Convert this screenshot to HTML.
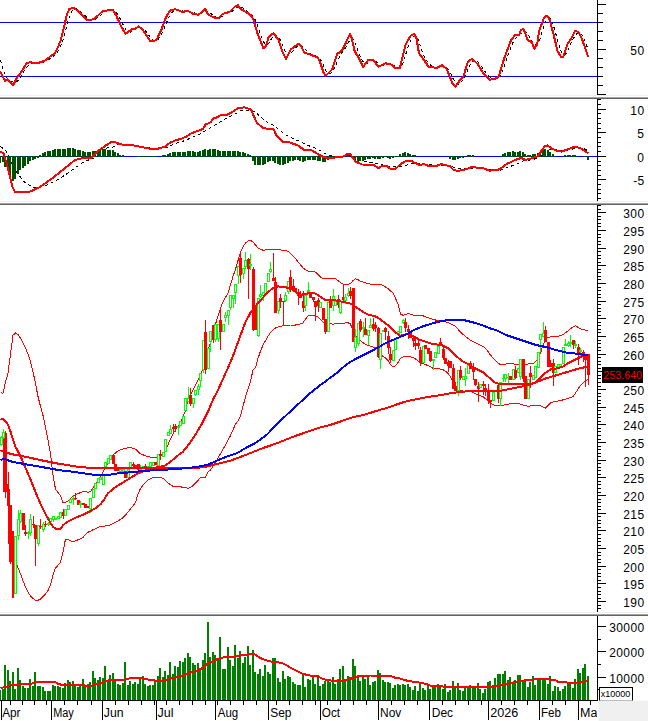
<!DOCTYPE html>
<html><head><meta charset="utf-8"><title>Chart</title><style>html,body{margin:0;padding:0;background:#fff;width:648px;height:721px;overflow:hidden}</style></head><body>
<svg width="648" height="721" viewBox="0 0 648 721" style="display:block;position:absolute;left:0;top:0" font-family="'Liberation Sans', Arial, sans-serif" font-size="12">
<rect width="648" height="721" fill="#fff"/>
<defs><clipPath id="c1"><rect x="0" y="0" width="597" height="97"/></clipPath><clipPath id="c2"><rect x="0" y="99" width="597" height="104"/></clipPath><clipPath id="c3"><rect x="0" y="205" width="597" height="409"/></clipPath><clipPath id="c4"><rect x="0" y="616" width="597" height="84"/></clipPath><clipPath id="cx"><rect x="0" y="701" width="597" height="20"/></clipPath></defs>
<g clip-path="url(#c1)">
<rect x="0" y="22" width="597" height="1" fill="#0000ff"/><rect x="0" y="76" width="597" height="1" fill="#0000ff"/>
<polyline points="0.5,59.9 3.0,68.9 5.5,76.4 8.0,79.0 10.5,80.8 13.0,82.2 15.5,82.5 18.0,80.6 20.5,76.7 23.0,72.8 25.5,69.1 28.0,65.7 30.5,63.4 33.0,62.6 35.5,62.7 38.0,63.0 40.5,62.7 43.0,62.2 45.5,61.3 48.0,60.0 50.5,58.3 53.0,56.3 55.5,54.2 58.0,51.2 60.5,46.6 63.0,39.8 65.5,30.9 68.0,21.2 70.5,13.7 73.0,9.5 75.5,8.6 78.0,9.5 80.5,11.4 83.0,13.7 85.5,16.1 88.0,18.1 90.5,19.4 93.0,19.6 95.5,19.0 98.0,17.5 100.5,15.5 103.0,13.2 105.5,11.6 108.0,10.7 110.5,10.4 113.0,10.2 115.5,11.5 118.0,14.6 120.5,19.6 123.0,24.6 125.5,29.3 128.0,31.7 130.5,32.0 133.0,30.4 135.5,29.3 138.0,28.1 140.5,27.7 143.0,28.3 145.5,30.8 148.0,34.0 150.5,37.7 153.0,40.0 155.5,40.9 158.0,39.4 160.5,36.4 163.0,31.3 165.5,25.1 168.0,19.2 170.5,14.2 173.0,11.4 175.5,9.9 178.0,9.7 180.5,10.2 183.0,11.0 185.5,11.5 188.0,11.3 190.5,11.5 193.0,12.2 195.5,13.4 198.0,14.2 200.5,14.0 203.0,12.9 205.5,11.2 208.0,11.6 210.5,13.1 213.0,15.6 215.5,16.8 218.0,17.7 220.5,17.4 223.0,16.0 225.5,14.4 228.0,13.1 230.5,12.3 233.0,10.6 235.5,8.6 238.0,6.7 240.5,6.7 243.0,8.1 245.5,10.2 248.0,11.8 250.5,13.3 253.0,15.8 255.5,20.3 258.0,26.9 260.5,34.3 263.0,41.0 265.5,44.8 268.0,44.2 270.5,40.4 273.0,36.1 275.5,35.0 278.0,36.2 280.5,40.4 283.0,46.1 285.5,52.3 288.0,55.2 290.5,54.2 293.0,50.9 295.5,47.9 298.0,45.9 300.5,45.1 303.0,46.4 305.5,49.4 308.0,52.2 310.5,53.9 313.0,54.8 315.5,55.8 318.0,56.9 320.5,59.5 323.0,64.2 325.5,70.0 328.0,73.4 330.5,73.4 333.0,70.5 335.5,65.7 338.0,59.8 340.5,54.6 343.0,51.1 345.5,47.9 348.0,43.3 350.5,39.0 353.0,39.1 355.5,44.0 358.0,51.0 360.5,56.9 363.0,61.5 365.5,64.0 368.0,63.5 370.5,61.3 373.0,60.1 375.5,61.0 378.0,63.2 380.5,65.1 383.0,65.5 385.5,64.5 388.0,63.9 390.5,63.9 393.0,64.9 395.5,66.4 398.0,67.7 400.5,67.4 403.0,63.0 405.5,55.2 408.0,46.8 410.5,40.4 413.0,36.9 415.5,35.7 418.0,39.4 420.5,46.4 423.0,53.8 425.5,58.8 428.0,62.3 430.5,65.1 433.0,66.7 435.5,67.4 438.0,67.5 440.5,67.2 443.0,66.5 445.5,66.7 448.0,68.8 450.5,72.9 453.0,78.4 455.5,83.0 458.0,84.6 460.5,83.0 463.0,79.7 465.5,75.3 468.0,69.3 470.5,63.6 473.0,60.3 475.5,60.4 478.0,62.0 480.5,65.0 483.0,68.6 485.5,72.2 488.0,75.4 490.5,77.7 493.0,79.0 495.5,79.2 498.0,78.3 500.5,75.4 503.0,69.9 505.5,62.5 508.0,55.1 510.5,48.3 513.0,42.6 515.5,38.2 518.0,36.0 520.5,33.8 523.0,31.9 525.5,31.4 528.0,34.5 530.5,38.6 533.0,42.3 535.5,44.6 538.0,43.6 540.5,37.6 543.0,28.8 545.5,21.5 548.0,18.1 550.5,19.0 553.0,24.1 555.5,32.6 558.0,42.1 560.5,50.1 563.0,54.8 565.5,54.3 568.0,50.1 570.5,44.3 573.0,39.2 575.5,35.1 578.0,32.6 580.5,33.0 583.0,36.7 585.5,42.4 588.0,49.2" fill="none" stroke="#000" stroke-width="1" stroke-dasharray="3,3" shape-rendering="crispEdges"/>
<polyline points="0.0,70.8 2.5,75.8 5.0,80.8 7.5,79.2 13.3,85.0 16.7,78.3 20.8,72.5 26.7,63.3 30.0,62.0 33.3,63.0 38.3,63.0 45.8,60.3 51.7,55.0 54.2,54.2 57.5,48.3 60.8,40.0 64.2,26.7 66.7,15.0 69.2,9.2 73.3,7.8 76.7,10.0 86.7,19.7 90.8,20.0 95.0,18.3 102.5,11.2 108.0,10.3 113.0,10.0 116.3,15.8 120.5,25.0 125.5,33.7 132.2,29.2 135.5,28.7 138.3,26.3 142.2,29.2 150.5,41.3 156.3,40.3 161.3,30.0 165.5,18.3 169.7,10.8 174.7,9.2 178.0,10.0 182.2,12.0 188.0,10.8 193.0,13.7 198.0,14.7 202.2,12.0 205.0,8.7 208.0,14.2 212.2,16.7 216.0,18.0 218.5,18.3 222.7,13.7 226.0,13.3 230.2,11.3 235.2,6.3 238.0,5.3 241.0,9.2 246.0,12.0 251.0,15.3 253.5,20.0 257.7,34.2 263.5,48.3 266.0,45.8 268.5,37.5 273.5,33.0 278.5,40.0 282.7,52.5 286.0,58.7 291.0,49.2 298.5,43.7 301.0,45.8 304.3,52.5 311.0,55.0 317.7,57.5 320.2,62.5 323.5,72.5 325.7,75.8 332.3,69.2 337.3,53.3 339.8,52.5 343.2,48.3 349.8,34.2 351.5,37.5 354.8,51.7 358.2,56.7 363.2,67.0 368.2,60.0 373.2,60.0 378.2,66.7 385.7,63.3 391.5,64.7 394.8,68.3 399.8,68.3 405.7,44.2 410.7,35.8 414.0,33.8 416.5,38.3 419.0,53.3 424.0,60.0 429.0,67.5 432.0,66.7 436.2,68.3 442.0,65.3 446.2,68.3 449.5,75.8 452.8,84.2 455.3,86.7 459.5,80.8 463.7,75.8 467.8,61.7 472.0,58.7 477.8,64.2 482.8,72.5 489.5,79.7 494.5,79.2 498.7,76.7 501.2,68.3 504.2,58.3 510.8,40.8 515.0,35.0 519.2,35.3 520.8,30.0 523.3,29.2 525.0,32.5 527.5,40.0 531.7,42.0 534.5,48.7 537.0,45.0 539.2,30.8 544.2,17.5 546.7,15.8 549.2,18.3 553.3,33.3 557.5,50.8 560.8,56.7 563.3,56.7 567.5,44.2 571.7,37.5 575.0,30.8 578.3,32.0 581.7,38.3 585.0,47.5 588.0,56.7" fill="none" stroke="#ff0000" stroke-width="2" shape-rendering="crispEdges" stroke-linejoin="round"/>
</g>
<g clip-path="url(#c2)">
<rect x="0" y="156" width="597" height="1" fill="#0000ff"/>
<polyline points="0.5,146.5 3.0,148.4 5.5,150.3 8.0,154.5 10.5,160.8 13.0,165.8 15.5,169.9 18.0,174.0 20.5,177.2 23.0,180.3 25.5,183.1 28.0,184.3 30.5,185.6 33.0,186.8 35.5,187.7 38.0,187.3 40.5,186.9 43.0,186.5 45.5,185.9 48.0,184.7 50.5,183.4 53.0,182.2 55.5,180.9 58.0,179.7 60.5,178.0 63.0,176.3 65.5,174.6 68.0,172.9 70.5,171.1 73.0,169.4 75.5,167.6 78.0,165.8 80.5,164.0 83.0,162.2 85.5,161.2 88.0,160.2 90.5,159.3 93.0,158.4 95.5,157.4 98.0,155.8 100.5,153.6 103.0,151.4 105.5,149.2 108.0,147.0 110.5,147.0 113.0,147.0 115.5,145.8 118.0,144.5 120.5,144.5 123.0,144.5 125.5,144.6 128.0,144.7 130.5,144.8 133.0,145.0 135.5,145.3 138.0,145.7 140.5,146.0 143.0,146.4 145.5,146.8 148.0,147.2 150.5,147.6 153.0,148.0 155.5,148.3 158.0,148.7 160.5,148.4 163.0,148.2 165.5,147.9 168.0,147.0 170.5,145.8 173.0,144.5 175.5,143.4 178.0,142.7 180.5,141.9 183.0,141.2 185.5,140.2 188.0,139.2 190.5,138.2 193.0,137.1 195.5,135.9 198.0,134.8 200.5,133.6 203.0,132.2 205.5,130.8 208.0,129.5 210.5,127.9 213.0,126.4 215.5,124.8 218.0,123.2 220.5,121.7 223.0,120.2 225.5,118.9 228.0,117.7 230.5,116.4 233.0,115.1 235.5,113.7 238.0,112.3 240.5,110.9 243.0,110.5 245.5,110.2 248.0,110.1 250.5,110.5 253.0,110.9 255.5,112.2 258.0,114.4 260.5,116.6 263.0,118.8 265.5,120.9 268.0,123.0 270.5,124.0 273.0,125.1 275.5,126.7 278.0,128.8 280.5,131.0 283.0,133.0 285.5,134.5 288.0,136.0 290.5,137.5 293.0,138.6 295.5,139.6 298.0,140.6 300.5,141.8 303.0,143.0 305.5,144.2 308.0,145.5 310.5,146.4 313.0,147.3 315.5,148.2 318.0,149.5 320.5,150.9 323.0,152.3 325.5,153.6 328.0,154.8 330.5,155.7 333.0,156.4 335.5,156.7 338.0,156.7 340.5,156.7 343.0,156.5 345.5,156.0 348.0,155.5 350.5,155.9 353.0,156.8 355.5,157.8 358.0,159.0 360.5,160.3 363.0,161.3 365.5,161.7 368.0,162.1 370.5,162.5 373.0,162.9 375.5,163.3 378.0,163.8 380.5,164.5 383.0,165.1 385.5,165.6 388.0,166.1 390.5,166.6 393.0,166.8 395.5,166.9 398.0,166.9 400.5,166.4 403.0,165.9 405.5,165.4 408.0,164.6 410.5,163.9 413.0,163.4 415.5,163.5 418.0,163.6 420.5,163.8 423.0,164.0 425.5,164.2 428.0,164.5 430.5,164.8 433.0,165.0 435.5,165.0 438.0,165.0 440.5,165.0 443.0,165.1 445.5,165.2 448.0,165.3 450.5,166.0 453.0,167.0 455.5,167.9 458.0,168.3 460.5,168.7 463.0,169.0 465.5,168.8 468.0,168.7 470.5,168.6 473.0,168.4 475.5,168.3 478.0,168.3 480.5,168.3 483.0,168.5 485.5,168.9 488.0,169.4 490.5,169.6 493.0,169.7 495.5,169.8 498.0,170.0 500.5,170.1 503.0,169.1 505.5,168.1 508.0,167.1 510.5,166.3 513.0,165.6 515.5,164.8 518.0,163.6 520.5,161.9 523.0,160.9 525.5,160.5 528.0,160.2 530.5,159.9 533.0,159.5 535.5,158.7 538.0,157.8 540.5,156.5 543.0,154.0 545.5,151.7 548.0,150.2 550.5,149.1 553.0,149.4 555.5,149.8 558.0,150.2 560.5,150.7 563.0,151.1 565.5,150.6 568.0,150.0 570.5,149.4 573.0,149.0 575.5,148.5 578.0,148.3 580.5,148.3 583.0,148.3 585.5,149.5 588.0,150.7" fill="none" stroke="#000" stroke-width="1" stroke-dasharray="3,3" shape-rendering="crispEdges"/>
<rect x="0" y="156" width="1" height="6.9" fill="#005000" shape-rendering="crispEdges"/>
<rect x="2" y="156" width="2" height="6.4" fill="#005000" shape-rendering="crispEdges"/>
<rect x="4" y="156" width="2" height="11.0" fill="#005000" shape-rendering="crispEdges"/>
<rect x="7" y="156" width="2" height="14.7" fill="#005000" shape-rendering="crispEdges"/>
<rect x="9" y="156" width="2" height="19.8" fill="#005000" shape-rendering="crispEdges"/>
<rect x="12" y="156" width="2" height="25.4" fill="#005000" shape-rendering="crispEdges"/>
<rect x="14" y="156" width="2" height="22.6" fill="#005000" shape-rendering="crispEdges"/>
<rect x="17" y="156" width="2" height="18.4" fill="#005000" shape-rendering="crispEdges"/>
<rect x="19" y="156" width="2" height="13.8" fill="#005000" shape-rendering="crispEdges"/>
<rect x="22" y="156" width="2" height="11.5" fill="#005000" shape-rendering="crispEdges"/>
<rect x="24" y="156" width="2" height="9.6" fill="#005000" shape-rendering="crispEdges"/>
<rect x="27" y="156" width="2" height="7.8" fill="#005000" shape-rendering="crispEdges"/>
<rect x="29" y="156" width="2" height="4.6" fill="#005000" shape-rendering="crispEdges"/>
<rect x="32" y="156" width="2" height="3.6" fill="#005000" shape-rendering="crispEdges"/>
<rect x="34" y="156" width="2" height="2.7" fill="#005000" shape-rendering="crispEdges"/>
<rect x="37" y="156" width="2" height="1.6" fill="#005000" shape-rendering="crispEdges"/>
<rect x="39" y="155.0" width="2" height="2.0" fill="#005000" shape-rendering="crispEdges"/>
<rect x="42" y="153.1" width="2" height="3.9" fill="#005000" shape-rendering="crispEdges"/>
<rect x="44" y="152.2" width="2" height="4.8" fill="#005000" shape-rendering="crispEdges"/>
<rect x="47" y="151.3" width="2" height="5.7" fill="#005000" shape-rendering="crispEdges"/>
<rect x="49" y="150.8" width="2" height="6.2" fill="#005000" shape-rendering="crispEdges"/>
<rect x="52" y="149.9" width="2" height="7.1" fill="#005000" shape-rendering="crispEdges"/>
<rect x="54" y="149.0" width="2" height="8.0" fill="#005000" shape-rendering="crispEdges"/>
<rect x="57" y="149.1" width="2" height="7.9" fill="#005000" shape-rendering="crispEdges"/>
<rect x="59" y="149.1" width="2" height="7.9" fill="#005000" shape-rendering="crispEdges"/>
<rect x="62" y="149.2" width="2" height="7.8" fill="#005000" shape-rendering="crispEdges"/>
<rect x="64" y="148.8" width="2" height="8.2" fill="#005000" shape-rendering="crispEdges"/>
<rect x="67" y="148.2" width="2" height="8.8" fill="#005000" shape-rendering="crispEdges"/>
<rect x="69" y="148.2" width="2" height="8.8" fill="#005000" shape-rendering="crispEdges"/>
<rect x="72" y="148.2" width="2" height="8.8" fill="#005000" shape-rendering="crispEdges"/>
<rect x="74" y="148.9" width="2" height="8.1" fill="#005000" shape-rendering="crispEdges"/>
<rect x="77" y="149.6" width="2" height="7.4" fill="#005000" shape-rendering="crispEdges"/>
<rect x="79" y="150.4" width="2" height="6.6" fill="#005000" shape-rendering="crispEdges"/>
<rect x="82" y="151.2" width="2" height="5.8" fill="#005000" shape-rendering="crispEdges"/>
<rect x="84" y="151.9" width="2" height="5.1" fill="#005000" shape-rendering="crispEdges"/>
<rect x="87" y="152.2" width="2" height="4.8" fill="#005000" shape-rendering="crispEdges"/>
<rect x="89" y="151.8" width="2" height="5.2" fill="#005000" shape-rendering="crispEdges"/>
<rect x="92" y="151.2" width="2" height="5.8" fill="#005000" shape-rendering="crispEdges"/>
<rect x="94" y="150.5" width="2" height="6.5" fill="#005000" shape-rendering="crispEdges"/>
<rect x="97" y="150.1" width="2" height="6.9" fill="#005000" shape-rendering="crispEdges"/>
<rect x="99" y="149.7" width="2" height="7.3" fill="#005000" shape-rendering="crispEdges"/>
<rect x="102" y="149.4" width="2" height="7.6" fill="#005000" shape-rendering="crispEdges"/>
<rect x="104" y="149.2" width="2" height="7.8" fill="#005000" shape-rendering="crispEdges"/>
<rect x="107" y="149.5" width="2" height="7.5" fill="#005000" shape-rendering="crispEdges"/>
<rect x="109" y="149.5" width="2" height="7.5" fill="#005000" shape-rendering="crispEdges"/>
<rect x="112" y="150.3" width="2" height="6.7" fill="#005000" shape-rendering="crispEdges"/>
<rect x="114" y="151.7" width="2" height="5.3" fill="#005000" shape-rendering="crispEdges"/>
<rect x="117" y="153.3" width="2" height="3.7" fill="#005000" shape-rendering="crispEdges"/>
<rect x="119" y="154.6" width="2" height="2.4" fill="#005000" shape-rendering="crispEdges"/>
<rect x="122" y="155.4" width="2" height="1.6" fill="#005000" shape-rendering="crispEdges"/>
<rect x="137" y="156" width="2" height="1.3" fill="#005000" shape-rendering="crispEdges"/>
<rect x="139" y="156" width="2" height="1.3" fill="#005000" shape-rendering="crispEdges"/>
<rect x="142" y="156" width="2" height="1.3" fill="#005000" shape-rendering="crispEdges"/>
<rect x="144" y="156" width="2" height="1.3" fill="#005000" shape-rendering="crispEdges"/>
<rect x="147" y="156" width="2" height="1.3" fill="#005000" shape-rendering="crispEdges"/>
<rect x="149" y="156" width="2" height="1.3" fill="#005000" shape-rendering="crispEdges"/>
<rect x="152" y="156" width="2" height="1.3" fill="#005000" shape-rendering="crispEdges"/>
<rect x="154" y="156" width="2" height="1.3" fill="#005000" shape-rendering="crispEdges"/>
<rect x="162" y="155.3" width="2" height="1.7" fill="#005000" shape-rendering="crispEdges"/>
<rect x="164" y="154.5" width="2" height="2.5" fill="#005000" shape-rendering="crispEdges"/>
<rect x="167" y="153.5" width="2" height="3.5" fill="#005000" shape-rendering="crispEdges"/>
<rect x="169" y="152.6" width="2" height="4.4" fill="#005000" shape-rendering="crispEdges"/>
<rect x="172" y="152.0" width="2" height="5.0" fill="#005000" shape-rendering="crispEdges"/>
<rect x="174" y="152.0" width="2" height="5.0" fill="#005000" shape-rendering="crispEdges"/>
<rect x="177" y="152.0" width="2" height="5.0" fill="#005000" shape-rendering="crispEdges"/>
<rect x="179" y="152.0" width="2" height="5.0" fill="#005000" shape-rendering="crispEdges"/>
<rect x="182" y="151.8" width="2" height="5.2" fill="#005000" shape-rendering="crispEdges"/>
<rect x="184" y="151.5" width="2" height="5.5" fill="#005000" shape-rendering="crispEdges"/>
<rect x="187" y="151.2" width="2" height="5.8" fill="#005000" shape-rendering="crispEdges"/>
<rect x="189" y="151.2" width="2" height="5.8" fill="#005000" shape-rendering="crispEdges"/>
<rect x="192" y="151.2" width="2" height="5.8" fill="#005000" shape-rendering="crispEdges"/>
<rect x="194" y="152.0" width="2" height="5.0" fill="#005000" shape-rendering="crispEdges"/>
<rect x="197" y="151.9" width="2" height="5.1" fill="#005000" shape-rendering="crispEdges"/>
<rect x="199" y="151.4" width="2" height="5.6" fill="#005000" shape-rendering="crispEdges"/>
<rect x="202" y="149.8" width="2" height="7.2" fill="#005000" shape-rendering="crispEdges"/>
<rect x="204" y="148.6" width="2" height="8.4" fill="#005000" shape-rendering="crispEdges"/>
<rect x="207" y="149.5" width="2" height="7.5" fill="#005000" shape-rendering="crispEdges"/>
<rect x="209" y="148.6" width="2" height="8.4" fill="#005000" shape-rendering="crispEdges"/>
<rect x="212" y="148.6" width="2" height="8.4" fill="#005000" shape-rendering="crispEdges"/>
<rect x="214" y="148.9" width="2" height="8.1" fill="#005000" shape-rendering="crispEdges"/>
<rect x="217" y="149.8" width="2" height="7.2" fill="#005000" shape-rendering="crispEdges"/>
<rect x="219" y="150.7" width="2" height="6.3" fill="#005000" shape-rendering="crispEdges"/>
<rect x="222" y="151.0" width="2" height="6.0" fill="#005000" shape-rendering="crispEdges"/>
<rect x="224" y="151.2" width="2" height="5.8" fill="#005000" shape-rendering="crispEdges"/>
<rect x="227" y="151.2" width="2" height="5.8" fill="#005000" shape-rendering="crispEdges"/>
<rect x="229" y="151.2" width="2" height="5.8" fill="#005000" shape-rendering="crispEdges"/>
<rect x="232" y="151.1" width="2" height="5.9" fill="#005000" shape-rendering="crispEdges"/>
<rect x="234" y="150.7" width="2" height="6.3" fill="#005000" shape-rendering="crispEdges"/>
<rect x="237" y="150.5" width="2" height="6.5" fill="#005000" shape-rendering="crispEdges"/>
<rect x="239" y="151.8" width="2" height="5.2" fill="#005000" shape-rendering="crispEdges"/>
<rect x="242" y="152.2" width="2" height="4.8" fill="#005000" shape-rendering="crispEdges"/>
<rect x="244" y="152.6" width="2" height="4.4" fill="#005000" shape-rendering="crispEdges"/>
<rect x="247" y="154.2" width="2" height="2.8" fill="#005000" shape-rendering="crispEdges"/>
<rect x="249" y="155.4" width="2" height="1.6" fill="#005000" shape-rendering="crispEdges"/>
<rect x="252" y="156" width="2" height="4.8" fill="#005000" shape-rendering="crispEdges"/>
<rect x="254" y="156" width="2" height="8.6" fill="#005000" shape-rendering="crispEdges"/>
<rect x="257" y="156" width="2" height="9.3" fill="#005000" shape-rendering="crispEdges"/>
<rect x="259" y="156" width="2" height="9.3" fill="#005000" shape-rendering="crispEdges"/>
<rect x="262" y="156" width="2" height="9.2" fill="#005000" shape-rendering="crispEdges"/>
<rect x="264" y="156" width="2" height="7.9" fill="#005000" shape-rendering="crispEdges"/>
<rect x="267" y="156" width="2" height="5.7" fill="#005000" shape-rendering="crispEdges"/>
<rect x="269" y="156" width="2" height="4.6" fill="#005000" shape-rendering="crispEdges"/>
<rect x="272" y="156" width="2" height="5.4" fill="#005000" shape-rendering="crispEdges"/>
<rect x="274" y="156" width="2" height="7.0" fill="#005000" shape-rendering="crispEdges"/>
<rect x="277" y="156" width="2" height="8.0" fill="#005000" shape-rendering="crispEdges"/>
<rect x="279" y="156" width="2" height="8.5" fill="#005000" shape-rendering="crispEdges"/>
<rect x="282" y="156" width="2" height="8.5" fill="#005000" shape-rendering="crispEdges"/>
<rect x="284" y="156" width="2" height="7.9" fill="#005000" shape-rendering="crispEdges"/>
<rect x="287" y="156" width="2" height="6.7" fill="#005000" shape-rendering="crispEdges"/>
<rect x="289" y="156" width="2" height="5.4" fill="#005000" shape-rendering="crispEdges"/>
<rect x="292" y="156" width="2" height="4.7" fill="#005000" shape-rendering="crispEdges"/>
<rect x="294" y="156" width="2" height="4.3" fill="#005000" shape-rendering="crispEdges"/>
<rect x="297" y="156" width="2" height="4.3" fill="#005000" shape-rendering="crispEdges"/>
<rect x="299" y="156" width="2" height="4.8" fill="#005000" shape-rendering="crispEdges"/>
<rect x="302" y="156" width="2" height="5.6" fill="#005000" shape-rendering="crispEdges"/>
<rect x="304" y="156" width="2" height="5.0" fill="#005000" shape-rendering="crispEdges"/>
<rect x="307" y="156" width="2" height="4.3" fill="#005000" shape-rendering="crispEdges"/>
<rect x="309" y="156" width="2" height="3.6" fill="#005000" shape-rendering="crispEdges"/>
<rect x="312" y="156" width="2" height="3.8" fill="#005000" shape-rendering="crispEdges"/>
<rect x="314" y="156" width="2" height="4.2" fill="#005000" shape-rendering="crispEdges"/>
<rect x="317" y="156" width="2" height="4.6" fill="#005000" shape-rendering="crispEdges"/>
<rect x="319" y="156" width="2" height="5.0" fill="#005000" shape-rendering="crispEdges"/>
<rect x="322" y="156" width="2" height="5.6" fill="#005000" shape-rendering="crispEdges"/>
<rect x="324" y="156" width="2" height="5.5" fill="#005000" shape-rendering="crispEdges"/>
<rect x="327" y="156" width="2" height="4.2" fill="#005000" shape-rendering="crispEdges"/>
<rect x="329" y="156" width="2" height="3.1" fill="#005000" shape-rendering="crispEdges"/>
<rect x="332" y="156" width="2" height="2.4" fill="#005000" shape-rendering="crispEdges"/>
<rect x="334" y="156" width="2" height="1.4" fill="#005000" shape-rendering="crispEdges"/>
<rect x="344" y="155.4" width="2" height="1.6" fill="#005000" shape-rendering="crispEdges"/>
<rect x="347" y="154.9" width="2" height="2.1" fill="#005000" shape-rendering="crispEdges"/>
<rect x="352" y="156" width="2" height="3.2" fill="#005000" shape-rendering="crispEdges"/>
<rect x="354" y="156" width="2" height="4.7" fill="#005000" shape-rendering="crispEdges"/>
<rect x="357" y="156" width="2" height="5.6" fill="#005000" shape-rendering="crispEdges"/>
<rect x="359" y="156" width="2" height="5.4" fill="#005000" shape-rendering="crispEdges"/>
<rect x="362" y="156" width="2" height="5.0" fill="#005000" shape-rendering="crispEdges"/>
<rect x="364" y="156" width="2" height="4.4" fill="#005000" shape-rendering="crispEdges"/>
<rect x="367" y="156" width="2" height="3.2" fill="#005000" shape-rendering="crispEdges"/>
<rect x="369" y="156" width="2" height="2.6" fill="#005000" shape-rendering="crispEdges"/>
<rect x="372" y="156" width="2" height="2.4" fill="#005000" shape-rendering="crispEdges"/>
<rect x="374" y="156" width="2" height="2.9" fill="#005000" shape-rendering="crispEdges"/>
<rect x="377" y="156" width="2" height="3.3" fill="#005000" shape-rendering="crispEdges"/>
<rect x="379" y="156" width="2" height="2.6" fill="#005000" shape-rendering="crispEdges"/>
<rect x="382" y="156" width="2" height="2.0" fill="#005000" shape-rendering="crispEdges"/>
<rect x="384" y="156" width="2" height="1.4" fill="#005000" shape-rendering="crispEdges"/>
<rect x="387" y="156" width="2" height="2.0" fill="#005000" shape-rendering="crispEdges"/>
<rect x="389" y="156" width="2" height="2.6" fill="#005000" shape-rendering="crispEdges"/>
<rect x="392" y="156" width="2" height="2.2" fill="#005000" shape-rendering="crispEdges"/>
<rect x="394" y="156" width="2" height="1.3" fill="#005000" shape-rendering="crispEdges"/>
<rect x="397" y="155.5" width="2" height="1.5" fill="#005000" shape-rendering="crispEdges"/>
<rect x="399" y="154.4" width="2" height="2.6" fill="#005000" shape-rendering="crispEdges"/>
<rect x="402" y="153.4" width="2" height="3.6" fill="#005000" shape-rendering="crispEdges"/>
<rect x="404" y="152.4" width="2" height="4.6" fill="#005000" shape-rendering="crispEdges"/>
<rect x="407" y="153.3" width="2" height="3.7" fill="#005000" shape-rendering="crispEdges"/>
<rect x="409" y="154.0" width="2" height="3.0" fill="#005000" shape-rendering="crispEdges"/>
<rect x="412" y="154.5" width="2" height="2.5" fill="#005000" shape-rendering="crispEdges"/>
<rect x="414" y="155.2" width="2" height="1.8" fill="#005000" shape-rendering="crispEdges"/>
<rect x="449" y="156" width="2" height="2.5" fill="#005000" shape-rendering="crispEdges"/>
<rect x="452" y="156" width="2" height="4.0" fill="#005000" shape-rendering="crispEdges"/>
<rect x="454" y="156" width="2" height="4.2" fill="#005000" shape-rendering="crispEdges"/>
<rect x="457" y="156" width="2" height="3.0" fill="#005000" shape-rendering="crispEdges"/>
<rect x="459" y="156" width="2" height="2.3" fill="#005000" shape-rendering="crispEdges"/>
<rect x="462" y="156" width="2" height="1.6" fill="#005000" shape-rendering="crispEdges"/>
<rect x="467" y="155.3" width="2" height="1.7" fill="#005000" shape-rendering="crispEdges"/>
<rect x="469" y="154.6" width="2" height="2.4" fill="#005000" shape-rendering="crispEdges"/>
<rect x="472" y="155.4" width="2" height="1.6" fill="#005000" shape-rendering="crispEdges"/>
<rect x="502" y="153.5" width="2" height="3.5" fill="#005000" shape-rendering="crispEdges"/>
<rect x="504" y="152.5" width="2" height="4.5" fill="#005000" shape-rendering="crispEdges"/>
<rect x="507" y="152.1" width="2" height="4.9" fill="#005000" shape-rendering="crispEdges"/>
<rect x="509" y="151.7" width="2" height="5.3" fill="#005000" shape-rendering="crispEdges"/>
<rect x="512" y="151.3" width="2" height="5.7" fill="#005000" shape-rendering="crispEdges"/>
<rect x="514" y="151.6" width="2" height="5.4" fill="#005000" shape-rendering="crispEdges"/>
<rect x="517" y="151.8" width="2" height="5.2" fill="#005000" shape-rendering="crispEdges"/>
<rect x="519" y="151.3" width="2" height="5.7" fill="#005000" shape-rendering="crispEdges"/>
<rect x="522" y="152.4" width="2" height="4.6" fill="#005000" shape-rendering="crispEdges"/>
<rect x="524" y="153.8" width="2" height="3.2" fill="#005000" shape-rendering="crispEdges"/>
<rect x="527" y="154.5" width="2" height="2.5" fill="#005000" shape-rendering="crispEdges"/>
<rect x="529" y="154.5" width="2" height="2.5" fill="#005000" shape-rendering="crispEdges"/>
<rect x="532" y="154.3" width="2" height="2.7" fill="#005000" shape-rendering="crispEdges"/>
<rect x="534" y="153.8" width="2" height="3.2" fill="#005000" shape-rendering="crispEdges"/>
<rect x="537" y="153.0" width="2" height="4.0" fill="#005000" shape-rendering="crispEdges"/>
<rect x="539" y="151.6" width="2" height="5.4" fill="#005000" shape-rendering="crispEdges"/>
<rect x="542" y="149.3" width="2" height="7.7" fill="#005000" shape-rendering="crispEdges"/>
<rect x="544" y="148.6" width="2" height="8.4" fill="#005000" shape-rendering="crispEdges"/>
<rect x="547" y="149.5" width="2" height="7.5" fill="#005000" shape-rendering="crispEdges"/>
<rect x="549" y="152.1" width="2" height="4.9" fill="#005000" shape-rendering="crispEdges"/>
<rect x="552" y="154.1" width="2" height="2.9" fill="#005000" shape-rendering="crispEdges"/>
<rect x="564" y="155.2" width="2" height="1.8" fill="#005000" shape-rendering="crispEdges"/>
<rect x="567" y="154.6" width="2" height="2.4" fill="#005000" shape-rendering="crispEdges"/>
<rect x="569" y="154.5" width="2" height="2.5" fill="#005000" shape-rendering="crispEdges"/>
<rect x="572" y="154.5" width="2" height="2.5" fill="#005000" shape-rendering="crispEdges"/>
<rect x="574" y="155.0" width="2" height="2.0" fill="#005000" shape-rendering="crispEdges"/>
<rect x="584" y="156" width="2" height="1.3" fill="#005000" shape-rendering="crispEdges"/>
<rect x="587" y="156" width="2" height="4.0" fill="#005000" shape-rendering="crispEdges"/>
<polyline points="0.0,152.0 3.3,152.8 6.7,163.7 10.0,177.0 12.5,187.0 15.0,192.0 29.2,192.0 40.0,187.0 51.7,178.7 63.3,169.5 75.0,160.0 81.7,158.3 90.8,157.8 100.0,149.5 108.0,144.0 111.3,142.0 114.7,142.0 119.7,144.0 124.7,145.0 133.0,145.3 141.3,147.0 149.7,148.7 158.0,148.7 165.5,146.5 169.7,142.8 174.7,140.7 181.3,138.7 186.3,136.7 190.5,133.7 196.3,131.5 203.0,129.0 205.5,124.5 210.5,122.3 213.0,118.7 216.0,117.8 221.0,115.0 227.7,114.5 232.7,111.7 237.7,108.3 244.3,107.3 251.0,109.5 253.5,115.3 256.8,122.8 263.5,128.3 273.5,129.0 276.8,136.2 282.7,141.7 289.3,142.3 297.7,145.3 304.3,150.0 311.8,150.3 318.5,154.5 324.0,157.3 330.7,158.3 335.7,157.3 342.3,157.0 346.5,154.5 349.8,154.0 352.3,157.0 355.7,161.7 362.3,164.5 374.0,165.0 378.2,168.3 382.3,165.7 386.5,165.7 390.7,169.0 395.7,168.7 400.7,164.0 405.7,161.2 410.7,160.7 414.8,162.8 419.8,165.0 424.0,164.0 428.2,165.7 432.0,166.2 437.0,165.7 441.2,164.0 445.3,165.3 449.5,165.7 453.7,170.3 458.7,170.7 465.3,169.5 471.2,167.3 482.0,167.8 489.5,170.7 498.7,169.5 500.0,169.0 506.7,164.0 515.0,160.0 521.7,157.8 525.0,160.0 531.7,158.3 538.3,156.2 541.7,150.3 545.0,146.2 547.5,145.3 551.7,148.7 556.7,150.7 561.7,151.7 568.3,149.0 575.0,146.7 581.7,148.7 585.8,152.0 588.3,153.3" fill="none" stroke="#ff0000" stroke-width="2" shape-rendering="crispEdges" stroke-linejoin="round"/>
</g>
<g clip-path="url(#c3)">
<polyline points="0.5,392.6 3.0,393.2 5.5,381.9 8.0,373.2 10.5,354.2 13.0,335.3 15.5,333.0 18.0,334.4 20.5,338.2 23.0,343.0 25.5,348.0 28.0,354.3 30.5,361.8 33.0,371.7 35.5,383.7 38.0,396.5 40.5,406.5 43.0,415.5 45.5,427.5 48.0,440.0 50.5,454.0 53.0,475.0 55.5,489.3 58.0,492.6 60.5,495.5 63.0,502.4 65.5,502.5 68.0,500.8 70.5,498.5 73.0,496.1 75.5,494.9 78.0,493.7 80.5,492.6 83.0,491.5 85.5,491.7 88.0,492.1 90.5,491.8 93.0,488.0 95.5,484.3 98.0,481.0 100.5,477.3 103.0,472.3 105.5,467.4 108.0,462.5 110.5,458.8 113.0,455.0 115.5,452.9 118.0,450.8 120.5,449.9 123.0,449.0 125.5,448.2 128.0,447.9 130.5,447.6 133.0,448.2 135.5,449.2 138.0,451.7 140.5,453.7 143.0,454.8 145.5,455.8 148.0,456.5 150.5,457.3 153.0,457.5 155.5,457.5 158.0,457.5 160.5,455.8 163.0,454.2 165.5,449.7 168.0,444.7 170.5,438.7 173.0,433.8 175.5,429.9 178.0,426.9 180.5,422.9 183.0,416.7 185.5,410.4 188.0,400.0 190.5,395.0 193.0,390.0 195.5,385.0 198.0,380.0 200.5,375.0 203.0,368.3 205.5,359.2 208.0,350.3 210.5,342.0 213.0,333.3 215.5,324.2 218.0,315.7 220.5,308.2 223.0,301.9 225.5,297.5 228.0,293.2 230.5,284.7 233.0,276.3 235.5,269.3 238.0,260.5 240.5,252.2 243.0,246.7 245.5,243.1 248.0,241.1 250.5,240.2 253.0,242.0 255.5,244.9 258.0,247.9 260.5,249.2 263.0,250.2 265.5,250.0 268.0,249.7 270.5,249.3 273.0,249.3 275.5,249.5 278.0,249.8 280.5,250.0 283.0,250.2 285.5,250.3 288.0,251.4 290.5,253.3 293.0,255.7 295.5,258.6 298.0,261.7 300.5,264.9 303.0,267.8 305.5,269.9 308.0,271.0 310.5,271.2 313.0,271.5 315.5,272.2 318.0,274.7 320.5,277.2 323.0,278.3 325.5,278.3 328.0,278.3 330.5,278.4 333.0,278.5 335.5,278.7 338.0,280.5 340.5,282.5 343.0,284.2 345.5,284.2 348.0,284.2 350.5,283.6 353.0,280.7 355.5,278.6 358.0,279.8 360.5,281.1 363.0,282.1 365.5,282.8 368.0,283.6 370.5,284.2 373.0,284.2 375.5,284.2 378.0,284.2 380.5,284.4 383.0,285.7 385.5,286.9 388.0,288.7 390.5,290.9 393.0,293.0 395.5,298.4 398.0,304.2 400.5,314.3 403.0,315.2 405.5,314.5 408.0,313.5 410.5,314.1 413.0,315.1 415.5,315.8 418.0,315.6 420.5,315.4 423.0,315.8 425.5,316.7 428.0,317.6 430.5,318.5 433.0,319.2 435.5,320.0 438.0,320.7 440.5,321.2 443.0,321.6 445.5,322.0 448.0,322.4 450.5,323.6 453.0,324.8 455.5,326.4 458.0,329.2 460.5,332.0 463.0,334.4 465.5,336.4 468.0,338.4 470.5,340.2 473.0,341.5 475.5,342.8 478.0,344.0 480.5,345.2 483.0,346.5 485.5,348.2 488.0,351.6 490.5,355.1 493.0,358.0 495.5,360.5 498.0,363.0 500.5,364.6 503.0,364.6 505.5,364.1 508.0,363.6 510.5,363.5 513.0,363.9 515.5,364.3 518.0,364.6 520.5,364.5 523.0,364.3 525.5,364.2 528.0,364.0 530.5,363.7 533.0,363.5 535.5,361.9 538.0,358.9 540.5,353.3 543.0,345.3 545.5,339.1 548.0,337.4 550.5,337.0 553.0,336.6 555.5,336.4 558.0,336.1 560.5,335.9 563.0,334.5 565.5,332.8 568.0,330.8 570.5,328.8 573.0,326.9 575.5,325.6 578.0,327.4 580.5,328.7 583.0,329.6 585.5,330.1 588.0,330.3" fill="none" stroke="#ff0000" stroke-width="1" shape-rendering="crispEdges"/>
<polyline points="0.5,444.9 3.0,444.1 5.5,464.8 8.0,496.7 10.5,525.0 13.0,546.8 15.5,560.0 18.0,567.9 20.5,573.9 23.0,580.7 25.5,587.3 28.0,592.3 30.5,596.0 33.0,598.5 35.5,600.2 38.0,600.3 40.5,599.0 43.0,596.7 45.5,594.0 48.0,590.5 50.5,584.8 53.0,575.1 55.5,567.9 58.0,565.3 60.5,562.3 63.0,551.8 65.5,539.1 68.0,539.2 70.5,540.8 73.0,542.0 75.5,540.9 78.0,539.8 80.5,538.8 83.0,537.4 85.5,534.4 88.0,532.3 90.5,531.1 93.0,529.8 95.5,528.6 98.0,527.3 100.5,526.3 103.0,526.1 105.5,526.0 108.0,525.8 110.5,524.7 113.0,523.5 115.5,522.2 118.0,521.0 120.5,519.3 123.0,517.7 125.5,515.1 128.0,512.0 130.5,509.0 133.0,505.8 135.5,502.5 138.0,493.8 140.5,488.5 143.0,485.0 145.5,482.5 148.0,480.0 150.5,478.5 153.0,477.5 155.5,477.3 158.0,477.2 160.5,477.7 163.0,478.2 165.5,480.4 168.0,483.0 170.5,484.7 173.0,486.3 175.5,486.5 178.0,486.6 180.5,486.8 183.0,487.3 185.5,487.8 188.0,488.2 190.5,487.6 193.0,485.6 195.5,483.2 198.0,480.4 200.5,477.6 203.0,477.0 205.5,477.5 208.0,471.7 210.5,470.1 213.0,466.3 215.5,462.5 218.0,458.1 220.5,453.7 223.0,449.3 225.5,444.8 228.0,440.3 230.5,435.5 233.0,429.7 235.5,424.3 238.0,421.0 240.5,416.3 243.0,406.3 245.5,396.8 248.0,389.3 250.5,381.0 253.0,370.3 255.5,367.8 258.0,358.4 260.5,351.1 263.0,345.2 265.5,340.5 268.0,336.3 270.5,332.3 273.0,329.9 275.5,327.9 278.0,327.1 280.5,326.4 283.0,325.9 285.5,325.6 288.0,325.2 290.5,325.0 293.0,325.0 295.5,325.0 298.0,324.7 300.5,323.8 303.0,323.0 305.5,319.0 308.0,315.8 310.5,315.8 313.0,315.8 315.5,315.8 318.0,317.2 320.5,319.7 323.0,321.8 325.5,323.4 328.0,323.6 330.5,323.9 333.0,324.1 335.5,323.9 338.0,323.7 340.5,323.4 343.0,323.2 345.5,322.9 348.0,322.7 350.5,324.0 353.0,331.0 355.5,335.6 358.0,338.8 360.5,340.8 363.0,342.7 365.5,344.4 368.0,345.3 370.5,346.2 373.0,347.0 375.5,347.7 378.0,350.1 380.5,354.0 383.0,356.5 385.5,357.8 388.0,360.5 390.5,364.5 393.0,366.6 395.5,365.8 398.0,362.5 400.5,358.1 403.0,356.9 405.5,356.2 408.0,356.2 410.5,356.8 413.0,357.4 415.5,359.1 418.0,361.0 420.5,362.7 423.0,363.6 425.5,364.6 428.0,365.7 430.5,366.9 433.0,368.2 435.5,368.6 438.0,368.8 440.5,369.1 443.0,369.8 445.5,371.1 448.0,373.4 450.5,376.8 453.0,381.7 455.5,387.1 458.0,389.2 460.5,390.9 463.0,391.0 465.5,391.2 468.0,391.4 470.5,391.6 473.0,392.3 475.5,393.6 478.0,394.8 480.5,395.7 483.0,396.6 485.5,398.8 488.0,401.3 490.5,403.1 493.0,404.8 495.5,405.2 498.0,405.5 500.5,405.8 503.0,405.3 505.5,404.7 508.0,404.1 510.5,403.9 513.0,403.7 515.5,403.5 518.0,403.4 520.5,404.2 523.0,404.9 525.5,405.7 528.0,406.3 530.5,406.0 533.0,405.7 535.5,405.4 538.0,405.2 540.5,405.7 543.0,407.1 545.5,408.0 548.0,405.5 550.5,403.0 553.0,402.1 555.5,401.5 558.0,401.0 560.5,400.5 563.0,399.9 565.5,399.1 568.0,398.4 570.5,397.6 573.0,396.8 575.5,393.2 578.0,389.0 580.5,385.5 583.0,383.0 585.5,380.8 588.0,379.2" fill="none" stroke="#ff0000" stroke-width="1" shape-rendering="crispEdges"/>
<rect x="5" y="431" width="1" height="67" fill="#ff0000" shape-rendering="crispEdges"/>
<rect x="3" y="433" width="4" height="59" fill="#ff0000" shape-rendering="crispEdges"/>
<rect x="8" y="472" width="1" height="17" fill="#ff0000" shape-rendering="crispEdges"/>
<rect x="7" y="489" width="3" height="17" fill="#ff0000" shape-rendering="crispEdges"/>
<rect x="8" y="505" width="4" height="39" fill="#ff0000" shape-rendering="crispEdges"/>
<rect x="9" y="544" width="3" height="18" fill="#ff0000" shape-rendering="crispEdges"/>
<rect x="10" y="562" width="1" height="2" fill="#ff0000" shape-rendering="crispEdges"/>
<rect x="12" y="531" width="2" height="67" fill="#ff0000" shape-rendering="crispEdges"/>
<rect x="14.5" y="536.5" width="2" height="57" fill="#fff" stroke="#00ff00" stroke-width="1" shape-rendering="crispEdges"/>
<rect x="1" y="436" width="1" height="10" fill="#00ff00" shape-rendering="crispEdges"/>
<rect x="0.5" y="437.5" width="2" height="7" fill="#fff" stroke="#00ff00" stroke-width="1" shape-rendering="crispEdges"/>
<rect x="3" y="429" width="1" height="10" fill="#00ff00" shape-rendering="crispEdges"/>
<rect x="2.5" y="432.5" width="2" height="5" fill="#fff" stroke="#00ff00" stroke-width="1" shape-rendering="crispEdges"/>
<rect x="18" y="510" width="1" height="30" fill="#00ff00" shape-rendering="crispEdges"/>
<rect x="17.5" y="519.5" width="2" height="16" fill="#fff" stroke="#00ff00" stroke-width="1" shape-rendering="crispEdges"/>
<rect x="20" y="510" width="1" height="13" fill="#00ff00" shape-rendering="crispEdges"/>
<rect x="19.5" y="513.5" width="2" height="8" fill="#fff" stroke="#00ff00" stroke-width="1" shape-rendering="crispEdges"/>
<rect x="23" y="513" width="1" height="17" fill="#ff0000" shape-rendering="crispEdges"/>
<rect x="22" y="513" width="3" height="17" fill="#ff0000" shape-rendering="crispEdges"/>
<rect x="25" y="525" width="1" height="11" fill="#ff0000" shape-rendering="crispEdges"/>
<rect x="24" y="532" width="3" height="2" fill="#ff0000" shape-rendering="crispEdges"/>
<rect x="28" y="531" width="1" height="8" fill="#00ff00" shape-rendering="crispEdges"/>
<rect x="27" y="532" width="3" height="2" fill="#00ff00" shape-rendering="crispEdges"/>
<rect x="30" y="514" width="1" height="22" fill="#00ff00" shape-rendering="crispEdges"/>
<rect x="29.5" y="519.5" width="2" height="13" fill="#fff" stroke="#00ff00" stroke-width="1" shape-rendering="crispEdges"/>
<rect x="33" y="516" width="1" height="12" fill="#ff0000" shape-rendering="crispEdges"/>
<rect x="32" y="524" width="3" height="1" fill="#ff0000" shape-rendering="crispEdges"/>
<rect x="35" y="525" width="1" height="41" fill="#ff0000" shape-rendering="crispEdges"/>
<rect x="34" y="525" width="3" height="14" fill="#ff0000" shape-rendering="crispEdges"/>
<rect x="38" y="525" width="1" height="21" fill="#00ff00" shape-rendering="crispEdges"/>
<rect x="37.5" y="525.5" width="2" height="18" fill="#fff" stroke="#00ff00" stroke-width="1" shape-rendering="crispEdges"/>
<rect x="40" y="519" width="1" height="10" fill="#ff0000" shape-rendering="crispEdges"/>
<rect x="39" y="526" width="3" height="1" fill="#ff0000" shape-rendering="crispEdges"/>
<rect x="43" y="522" width="1" height="10" fill="#00ff00" shape-rendering="crispEdges"/>
<rect x="42.5" y="524.5" width="2" height="5" fill="#fff" stroke="#00ff00" stroke-width="1" shape-rendering="crispEdges"/>
<rect x="45" y="521" width="1" height="6" fill="#ff0000" shape-rendering="crispEdges"/>
<rect x="44" y="524" width="3" height="1" fill="#ff0000" shape-rendering="crispEdges"/>
<rect x="48" y="522" width="1" height="4" fill="#00ff00" shape-rendering="crispEdges"/>
<rect x="47" y="523" width="3" height="2" fill="#00ff00" shape-rendering="crispEdges"/>
<rect x="50" y="518" width="1" height="4" fill="#00ff00" shape-rendering="crispEdges"/>
<rect x="49.5" y="518.5" width="2" height="3" fill="#fff" stroke="#00ff00" stroke-width="1" shape-rendering="crispEdges"/>
<rect x="53" y="516" width="1" height="6" fill="#00ff00" shape-rendering="crispEdges"/>
<rect x="52.5" y="516.5" width="2" height="3" fill="#fff" stroke="#00ff00" stroke-width="1" shape-rendering="crispEdges"/>
<rect x="55" y="518" width="1" height="2" fill="#00ff00" shape-rendering="crispEdges"/>
<rect x="54" y="518" width="3" height="2" fill="#00ff00" shape-rendering="crispEdges"/>
<rect x="58" y="516" width="1" height="3" fill="#00ff00" shape-rendering="crispEdges"/>
<rect x="57.5" y="516.5" width="2" height="2" fill="#fff" stroke="#00ff00" stroke-width="1" shape-rendering="crispEdges"/>
<rect x="60" y="512" width="1" height="6" fill="#00ff00" shape-rendering="crispEdges"/>
<rect x="59.5" y="512.5" width="2" height="5" fill="#fff" stroke="#00ff00" stroke-width="1" shape-rendering="crispEdges"/>
<rect x="63" y="509" width="1" height="10" fill="#ff0000" shape-rendering="crispEdges"/>
<rect x="62" y="512" width="3" height="4" fill="#ff0000" shape-rendering="crispEdges"/>
<rect x="65" y="509" width="1" height="7" fill="#00ff00" shape-rendering="crispEdges"/>
<rect x="64.5" y="509.5" width="2" height="6" fill="#fff" stroke="#00ff00" stroke-width="1" shape-rendering="crispEdges"/>
<rect x="68" y="505" width="1" height="5" fill="#00ff00" shape-rendering="crispEdges"/>
<rect x="67.5" y="505.5" width="2" height="4" fill="#fff" stroke="#00ff00" stroke-width="1" shape-rendering="crispEdges"/>
<rect x="70" y="499" width="1" height="4" fill="#00ff00" shape-rendering="crispEdges"/>
<rect x="69.5" y="499.5" width="2" height="3" fill="#fff" stroke="#00ff00" stroke-width="1" shape-rendering="crispEdges"/>
<rect x="73" y="496" width="1" height="9" fill="#00ff00" shape-rendering="crispEdges"/>
<rect x="72" y="498" width="3" height="2" fill="#00ff00" shape-rendering="crispEdges"/>
<rect x="75" y="493" width="1" height="7" fill="#ff0000" shape-rendering="crispEdges"/>
<rect x="74" y="498" width="3" height="1" fill="#ff0000" shape-rendering="crispEdges"/>
<rect x="78" y="500" width="1" height="5" fill="#ff0000" shape-rendering="crispEdges"/>
<rect x="77" y="500" width="3" height="5" fill="#ff0000" shape-rendering="crispEdges"/>
<rect x="80" y="501" width="1" height="7" fill="#00ff00" shape-rendering="crispEdges"/>
<rect x="79" y="503" width="3" height="2" fill="#00ff00" shape-rendering="crispEdges"/>
<rect x="83" y="503" width="1" height="2" fill="#ff0000" shape-rendering="crispEdges"/>
<rect x="82" y="503" width="3" height="2" fill="#ff0000" shape-rendering="crispEdges"/>
<rect x="85" y="504" width="1" height="4" fill="#ff0000" shape-rendering="crispEdges"/>
<rect x="84" y="504" width="3" height="4" fill="#ff0000" shape-rendering="crispEdges"/>
<rect x="88" y="506" width="1" height="2" fill="#ff0000" shape-rendering="crispEdges"/>
<rect x="87" y="506" width="3" height="2" fill="#ff0000" shape-rendering="crispEdges"/>
<rect x="90" y="498" width="1" height="15" fill="#00ff00" shape-rendering="crispEdges"/>
<rect x="89.5" y="498.5" width="2" height="10" fill="#fff" stroke="#00ff00" stroke-width="1" shape-rendering="crispEdges"/>
<rect x="93" y="489" width="1" height="9" fill="#00ff00" shape-rendering="crispEdges"/>
<rect x="92.5" y="489.5" width="2" height="8" fill="#fff" stroke="#00ff00" stroke-width="1" shape-rendering="crispEdges"/>
<rect x="95" y="483" width="1" height="6" fill="#00ff00" shape-rendering="crispEdges"/>
<rect x="94.5" y="483.5" width="2" height="5" fill="#fff" stroke="#00ff00" stroke-width="1" shape-rendering="crispEdges"/>
<rect x="98" y="478" width="1" height="5" fill="#00ff00" shape-rendering="crispEdges"/>
<rect x="97.5" y="478.5" width="2" height="4" fill="#fff" stroke="#00ff00" stroke-width="1" shape-rendering="crispEdges"/>
<rect x="100" y="477" width="1" height="3" fill="#00ff00" shape-rendering="crispEdges"/>
<rect x="99.5" y="477.5" width="2" height="2" fill="#fff" stroke="#00ff00" stroke-width="1" shape-rendering="crispEdges"/>
<rect x="103" y="474" width="1" height="11" fill="#00ff00" shape-rendering="crispEdges"/>
<rect x="102.5" y="474.5" width="2" height="10" fill="#fff" stroke="#00ff00" stroke-width="1" shape-rendering="crispEdges"/>
<rect x="105" y="462" width="1" height="5" fill="#00ff00" shape-rendering="crispEdges"/>
<rect x="104.5" y="462.5" width="2" height="4" fill="#fff" stroke="#00ff00" stroke-width="1" shape-rendering="crispEdges"/>
<rect x="108" y="458" width="1" height="6" fill="#00ff00" shape-rendering="crispEdges"/>
<rect x="107.5" y="458.5" width="2" height="5" fill="#fff" stroke="#00ff00" stroke-width="1" shape-rendering="crispEdges"/>
<rect x="110" y="455" width="1" height="5" fill="#00ff00" shape-rendering="crispEdges"/>
<rect x="109.5" y="455.5" width="2" height="4" fill="#fff" stroke="#00ff00" stroke-width="1" shape-rendering="crispEdges"/>
<rect x="113" y="455" width="1" height="9" fill="#ff0000" shape-rendering="crispEdges"/>
<rect x="112" y="455" width="3" height="9" fill="#ff0000" shape-rendering="crispEdges"/>
<rect x="115" y="464" width="1" height="7" fill="#ff0000" shape-rendering="crispEdges"/>
<rect x="114" y="464" width="3" height="7" fill="#ff0000" shape-rendering="crispEdges"/>
<rect x="118" y="469" width="1" height="2" fill="#ff0000" shape-rendering="crispEdges"/>
<rect x="117" y="469" width="3" height="2" fill="#ff0000" shape-rendering="crispEdges"/>
<rect x="120" y="469" width="1" height="3" fill="#00ff00" shape-rendering="crispEdges"/>
<rect x="119.5" y="469.5" width="2" height="2" fill="#fff" stroke="#00ff00" stroke-width="1" shape-rendering="crispEdges"/>
<rect x="123" y="469" width="1" height="3" fill="#00ff00" shape-rendering="crispEdges"/>
<rect x="122.5" y="469.5" width="2" height="2" fill="#fff" stroke="#00ff00" stroke-width="1" shape-rendering="crispEdges"/>
<rect x="125" y="471" width="1" height="7" fill="#ff0000" shape-rendering="crispEdges"/>
<rect x="124" y="471" width="3" height="7" fill="#ff0000" shape-rendering="crispEdges"/>
<rect x="128" y="469" width="1" height="9" fill="#00ff00" shape-rendering="crispEdges"/>
<rect x="127.5" y="469.5" width="2" height="8" fill="#fff" stroke="#00ff00" stroke-width="1" shape-rendering="crispEdges"/>
<rect x="130" y="462" width="1" height="6" fill="#00ff00" shape-rendering="crispEdges"/>
<rect x="129.5" y="462.5" width="2" height="5" fill="#fff" stroke="#00ff00" stroke-width="1" shape-rendering="crispEdges"/>
<rect x="133" y="462" width="1" height="7" fill="#ff0000" shape-rendering="crispEdges"/>
<rect x="132" y="464" width="3" height="2" fill="#ff0000" shape-rendering="crispEdges"/>
<rect x="135" y="465" width="1" height="4" fill="#ff0000" shape-rendering="crispEdges"/>
<rect x="134" y="465" width="3" height="4" fill="#ff0000" shape-rendering="crispEdges"/>
<rect x="138" y="464" width="1" height="6" fill="#ff0000" shape-rendering="crispEdges"/>
<rect x="137" y="464" width="3" height="6" fill="#ff0000" shape-rendering="crispEdges"/>
<rect x="140" y="465" width="1" height="9" fill="#00ff00" shape-rendering="crispEdges"/>
<rect x="139" y="468" width="3" height="2" fill="#00ff00" shape-rendering="crispEdges"/>
<rect x="143" y="466" width="1" height="3" fill="#00ff00" shape-rendering="crispEdges"/>
<rect x="142.5" y="466.5" width="2" height="2" fill="#fff" stroke="#00ff00" stroke-width="1" shape-rendering="crispEdges"/>
<rect x="145" y="464" width="1" height="5" fill="#ff0000" shape-rendering="crispEdges"/>
<rect x="144" y="466" width="3" height="1" fill="#ff0000" shape-rendering="crispEdges"/>
<rect x="148" y="466" width="1" height="2" fill="#00ff00" shape-rendering="crispEdges"/>
<rect x="147" y="466" width="3" height="2" fill="#00ff00" shape-rendering="crispEdges"/>
<rect x="150" y="462" width="1" height="5" fill="#00ff00" shape-rendering="crispEdges"/>
<rect x="149.5" y="462.5" width="2" height="4" fill="#fff" stroke="#00ff00" stroke-width="1" shape-rendering="crispEdges"/>
<rect x="153" y="462" width="1" height="4" fill="#00ff00" shape-rendering="crispEdges"/>
<rect x="152.5" y="462.5" width="2" height="3" fill="#fff" stroke="#00ff00" stroke-width="1" shape-rendering="crispEdges"/>
<rect x="155" y="462" width="1" height="3" fill="#ff0000" shape-rendering="crispEdges"/>
<rect x="154" y="462" width="3" height="3" fill="#ff0000" shape-rendering="crispEdges"/>
<rect x="158" y="454" width="1" height="12" fill="#00ff00" shape-rendering="crispEdges"/>
<rect x="157.5" y="454.5" width="2" height="11" fill="#fff" stroke="#00ff00" stroke-width="1" shape-rendering="crispEdges"/>
<rect x="160" y="450" width="1" height="10" fill="#ff0000" shape-rendering="crispEdges"/>
<rect x="159" y="454" width="3" height="2" fill="#ff0000" shape-rendering="crispEdges"/>
<rect x="163" y="452" width="1" height="5" fill="#00ff00" shape-rendering="crispEdges"/>
<rect x="162.5" y="452.5" width="2" height="4" fill="#fff" stroke="#00ff00" stroke-width="1" shape-rendering="crispEdges"/>
<rect x="165" y="439" width="1" height="13" fill="#00ff00" shape-rendering="crispEdges"/>
<rect x="164.5" y="439.5" width="2" height="12" fill="#fff" stroke="#00ff00" stroke-width="1" shape-rendering="crispEdges"/>
<rect x="168" y="432" width="1" height="4" fill="#00ff00" shape-rendering="crispEdges"/>
<rect x="167.5" y="432.5" width="2" height="3" fill="#fff" stroke="#00ff00" stroke-width="1" shape-rendering="crispEdges"/>
<rect x="170" y="425" width="1" height="9" fill="#00ff00" shape-rendering="crispEdges"/>
<rect x="169.5" y="429.5" width="2" height="4" fill="#fff" stroke="#00ff00" stroke-width="1" shape-rendering="crispEdges"/>
<rect x="173" y="424" width="1" height="8" fill="#ff0000" shape-rendering="crispEdges"/>
<rect x="172" y="427" width="3" height="2" fill="#ff0000" shape-rendering="crispEdges"/>
<rect x="175" y="424" width="1" height="8" fill="#ff0000" shape-rendering="crispEdges"/>
<rect x="174" y="426" width="3" height="3" fill="#ff0000" shape-rendering="crispEdges"/>
<rect x="178" y="426" width="1" height="9" fill="#00ff00" shape-rendering="crispEdges"/>
<rect x="177" y="426" width="3" height="2" fill="#00ff00" shape-rendering="crispEdges"/>
<rect x="180" y="421" width="1" height="5" fill="#00ff00" shape-rendering="crispEdges"/>
<rect x="179.5" y="421.5" width="2" height="4" fill="#fff" stroke="#00ff00" stroke-width="1" shape-rendering="crispEdges"/>
<rect x="183" y="416" width="1" height="8" fill="#00ff00" shape-rendering="crispEdges"/>
<rect x="182.5" y="416.5" width="2" height="7" fill="#fff" stroke="#00ff00" stroke-width="1" shape-rendering="crispEdges"/>
<rect x="185" y="398" width="1" height="13" fill="#00ff00" shape-rendering="crispEdges"/>
<rect x="184.5" y="398.5" width="2" height="12" fill="#fff" stroke="#00ff00" stroke-width="1" shape-rendering="crispEdges"/>
<rect x="188" y="387" width="1" height="15" fill="#00ff00" shape-rendering="crispEdges"/>
<rect x="187.5" y="398.5" width="2" height="3" fill="#fff" stroke="#00ff00" stroke-width="1" shape-rendering="crispEdges"/>
<rect x="190" y="388" width="1" height="18" fill="#ff0000" shape-rendering="crispEdges"/>
<rect x="189" y="395" width="3" height="9" fill="#ff0000" shape-rendering="crispEdges"/>
<rect x="193" y="398" width="1" height="10" fill="#00ff00" shape-rendering="crispEdges"/>
<rect x="192.5" y="398.5" width="2" height="5" fill="#fff" stroke="#00ff00" stroke-width="1" shape-rendering="crispEdges"/>
<rect x="195" y="390" width="1" height="6" fill="#00ff00" shape-rendering="crispEdges"/>
<rect x="194.5" y="390.5" width="2" height="4" fill="#fff" stroke="#00ff00" stroke-width="1" shape-rendering="crispEdges"/>
<rect x="198" y="384" width="1" height="11" fill="#00ff00" shape-rendering="crispEdges"/>
<rect x="197.5" y="386.5" width="2" height="3" fill="#fff" stroke="#00ff00" stroke-width="1" shape-rendering="crispEdges"/>
<rect x="200" y="373" width="1" height="14" fill="#00ff00" shape-rendering="crispEdges"/>
<rect x="199.5" y="373.5" width="2" height="7" fill="#fff" stroke="#00ff00" stroke-width="1" shape-rendering="crispEdges"/>
<rect x="203" y="340" width="1" height="33" fill="#00ff00" shape-rendering="crispEdges"/>
<rect x="202.5" y="340.5" width="2" height="29" fill="#fff" stroke="#00ff00" stroke-width="1" shape-rendering="crispEdges"/>
<rect x="205" y="320" width="1" height="54" fill="#ff0000" shape-rendering="crispEdges"/>
<rect x="204" y="332" width="3" height="38" fill="#ff0000" shape-rendering="crispEdges"/>
<rect x="208" y="348" width="1" height="21" fill="#00ff00" shape-rendering="crispEdges"/>
<rect x="207.5" y="348.5" width="2" height="20" fill="#fff" stroke="#00ff00" stroke-width="1" shape-rendering="crispEdges"/>
<rect x="210" y="331" width="1" height="21" fill="#00ff00" shape-rendering="crispEdges"/>
<rect x="209.5" y="331.5" width="2" height="10" fill="#fff" stroke="#00ff00" stroke-width="1" shape-rendering="crispEdges"/>
<rect x="213" y="325" width="1" height="18" fill="#ff0000" shape-rendering="crispEdges"/>
<rect x="212" y="325" width="3" height="15" fill="#ff0000" shape-rendering="crispEdges"/>
<rect x="215" y="324" width="1" height="18" fill="#00ff00" shape-rendering="crispEdges"/>
<rect x="214.5" y="324.5" width="2" height="15" fill="#fff" stroke="#00ff00" stroke-width="1" shape-rendering="crispEdges"/>
<rect x="218" y="324" width="1" height="18" fill="#00ff00" shape-rendering="crispEdges"/>
<rect x="217.5" y="324.5" width="2" height="14" fill="#fff" stroke="#00ff00" stroke-width="1" shape-rendering="crispEdges"/>
<rect x="220" y="308" width="1" height="42" fill="#ff0000" shape-rendering="crispEdges"/>
<rect x="219" y="320" width="3" height="12" fill="#ff0000" shape-rendering="crispEdges"/>
<rect x="223" y="324" width="1" height="8" fill="#00ff00" shape-rendering="crispEdges"/>
<rect x="222.5" y="324.5" width="2" height="7" fill="#fff" stroke="#00ff00" stroke-width="1" shape-rendering="crispEdges"/>
<rect x="225" y="312" width="1" height="10" fill="#00ff00" shape-rendering="crispEdges"/>
<rect x="224.5" y="315.5" width="2" height="2" fill="#fff" stroke="#00ff00" stroke-width="1" shape-rendering="crispEdges"/>
<rect x="228" y="310" width="1" height="15" fill="#00ff00" shape-rendering="crispEdges"/>
<rect x="227.5" y="310.5" width="2" height="5" fill="#fff" stroke="#00ff00" stroke-width="1" shape-rendering="crispEdges"/>
<rect x="230" y="295" width="1" height="15" fill="#00ff00" shape-rendering="crispEdges"/>
<rect x="229.5" y="295.5" width="2" height="12" fill="#fff" stroke="#00ff00" stroke-width="1" shape-rendering="crispEdges"/>
<rect x="233" y="295" width="1" height="13" fill="#00ff00" shape-rendering="crispEdges"/>
<rect x="232.5" y="295.5" width="2" height="3" fill="#fff" stroke="#00ff00" stroke-width="1" shape-rendering="crispEdges"/>
<rect x="235" y="284" width="1" height="20" fill="#00ff00" shape-rendering="crispEdges"/>
<rect x="234.5" y="284.5" width="2" height="8" fill="#fff" stroke="#00ff00" stroke-width="1" shape-rendering="crispEdges"/>
<rect x="238" y="266" width="1" height="18" fill="#00ff00" shape-rendering="crispEdges"/>
<rect x="237.5" y="266.5" width="2" height="9" fill="#fff" stroke="#00ff00" stroke-width="1" shape-rendering="crispEdges"/>
<rect x="240" y="251" width="1" height="32" fill="#ff0000" shape-rendering="crispEdges"/>
<rect x="239" y="258" width="3" height="17" fill="#ff0000" shape-rendering="crispEdges"/>
<rect x="243" y="268" width="1" height="11" fill="#00ff00" shape-rendering="crispEdges"/>
<rect x="242.5" y="268.5" width="2" height="5" fill="#fff" stroke="#00ff00" stroke-width="1" shape-rendering="crispEdges"/>
<rect x="245" y="252" width="1" height="17" fill="#00ff00" shape-rendering="crispEdges"/>
<rect x="244.5" y="260.5" width="2" height="6" fill="#fff" stroke="#00ff00" stroke-width="1" shape-rendering="crispEdges"/>
<rect x="248" y="258" width="1" height="41" fill="#ff0000" shape-rendering="crispEdges"/>
<rect x="247" y="259" width="3" height="10" fill="#ff0000" shape-rendering="crispEdges"/>
<rect x="250" y="254" width="1" height="16" fill="#00ff00" shape-rendering="crispEdges"/>
<rect x="249" y="264" width="3" height="2" fill="#00ff00" shape-rendering="crispEdges"/>
<rect x="253" y="267" width="1" height="64" fill="#ff0000" shape-rendering="crispEdges"/>
<rect x="252" y="269" width="3" height="61" fill="#ff0000" shape-rendering="crispEdges"/>
<rect x="255" y="305" width="1" height="25" fill="#ff0000" shape-rendering="crispEdges"/>
<rect x="254" y="305" width="3" height="25" fill="#ff0000" shape-rendering="crispEdges"/>
<rect x="258" y="298" width="1" height="39" fill="#00ff00" shape-rendering="crispEdges"/>
<rect x="257.5" y="298.5" width="2" height="37" fill="#fff" stroke="#00ff00" stroke-width="1" shape-rendering="crispEdges"/>
<rect x="260" y="285" width="1" height="13" fill="#00ff00" shape-rendering="crispEdges"/>
<rect x="259.5" y="294.5" width="2" height="2" fill="#fff" stroke="#00ff00" stroke-width="1" shape-rendering="crispEdges"/>
<rect x="263" y="292" width="1" height="9" fill="#00ff00" shape-rendering="crispEdges"/>
<rect x="262.5" y="292.5" width="2" height="3" fill="#fff" stroke="#00ff00" stroke-width="1" shape-rendering="crispEdges"/>
<rect x="265" y="283" width="1" height="11" fill="#00ff00" shape-rendering="crispEdges"/>
<rect x="264.5" y="283.5" width="2" height="10" fill="#fff" stroke="#00ff00" stroke-width="1" shape-rendering="crispEdges"/>
<rect x="268" y="273" width="1" height="9" fill="#00ff00" shape-rendering="crispEdges"/>
<rect x="267.5" y="273.5" width="2" height="8" fill="#fff" stroke="#00ff00" stroke-width="1" shape-rendering="crispEdges"/>
<rect x="270" y="262" width="1" height="11" fill="#00ff00" shape-rendering="crispEdges"/>
<rect x="269.5" y="269.5" width="2" height="2" fill="#fff" stroke="#00ff00" stroke-width="1" shape-rendering="crispEdges"/>
<rect x="273" y="253" width="1" height="28" fill="#ff0000" shape-rendering="crispEdges"/>
<rect x="272" y="278" width="3" height="3" fill="#ff0000" shape-rendering="crispEdges"/>
<rect x="275" y="277" width="1" height="36" fill="#ff0000" shape-rendering="crispEdges"/>
<rect x="274" y="282" width="3" height="31" fill="#ff0000" shape-rendering="crispEdges"/>
<rect x="278" y="301" width="1" height="13" fill="#00ff00" shape-rendering="crispEdges"/>
<rect x="277.5" y="301.5" width="2" height="9" fill="#fff" stroke="#00ff00" stroke-width="1" shape-rendering="crispEdges"/>
<rect x="280" y="294" width="1" height="14" fill="#ff0000" shape-rendering="crispEdges"/>
<rect x="279" y="298" width="3" height="4" fill="#ff0000" shape-rendering="crispEdges"/>
<rect x="283" y="301" width="1" height="24" fill="#ff0000" shape-rendering="crispEdges"/>
<rect x="282" y="301" width="3" height="1" fill="#ff0000" shape-rendering="crispEdges"/>
<rect x="285" y="292" width="1" height="10" fill="#00ff00" shape-rendering="crispEdges"/>
<rect x="284.5" y="295.5" width="2" height="5" fill="#fff" stroke="#00ff00" stroke-width="1" shape-rendering="crispEdges"/>
<rect x="288" y="281" width="1" height="13" fill="#00ff00" shape-rendering="crispEdges"/>
<rect x="287.5" y="281.5" width="2" height="10" fill="#fff" stroke="#00ff00" stroke-width="1" shape-rendering="crispEdges"/>
<rect x="290" y="270" width="1" height="22" fill="#ff0000" shape-rendering="crispEdges"/>
<rect x="289" y="277" width="3" height="12" fill="#ff0000" shape-rendering="crispEdges"/>
<rect x="293" y="279" width="1" height="11" fill="#ff0000" shape-rendering="crispEdges"/>
<rect x="292" y="286" width="3" height="4" fill="#ff0000" shape-rendering="crispEdges"/>
<rect x="295" y="288" width="1" height="4" fill="#ff0000" shape-rendering="crispEdges"/>
<rect x="294" y="288" width="3" height="4" fill="#ff0000" shape-rendering="crispEdges"/>
<rect x="298" y="289" width="1" height="16" fill="#ff0000" shape-rendering="crispEdges"/>
<rect x="297" y="292" width="3" height="4" fill="#ff0000" shape-rendering="crispEdges"/>
<rect x="300" y="291" width="1" height="7" fill="#ff0000" shape-rendering="crispEdges"/>
<rect x="299" y="294" width="3" height="4" fill="#ff0000" shape-rendering="crispEdges"/>
<rect x="303" y="291" width="1" height="21" fill="#ff0000" shape-rendering="crispEdges"/>
<rect x="302" y="301" width="3" height="7" fill="#ff0000" shape-rendering="crispEdges"/>
<rect x="305" y="295" width="1" height="16" fill="#00ff00" shape-rendering="crispEdges"/>
<rect x="304.5" y="295.5" width="2" height="10" fill="#fff" stroke="#00ff00" stroke-width="1" shape-rendering="crispEdges"/>
<rect x="308" y="282" width="1" height="10" fill="#00ff00" shape-rendering="crispEdges"/>
<rect x="307" y="290" width="3" height="2" fill="#00ff00" shape-rendering="crispEdges"/>
<rect x="310" y="292" width="1" height="6" fill="#ff0000" shape-rendering="crispEdges"/>
<rect x="309" y="292" width="3" height="6" fill="#ff0000" shape-rendering="crispEdges"/>
<rect x="313" y="297" width="1" height="5" fill="#ff0000" shape-rendering="crispEdges"/>
<rect x="312" y="297" width="3" height="3" fill="#ff0000" shape-rendering="crispEdges"/>
<rect x="315" y="301" width="1" height="20" fill="#ff0000" shape-rendering="crispEdges"/>
<rect x="314" y="301" width="3" height="6" fill="#ff0000" shape-rendering="crispEdges"/>
<rect x="318" y="298" width="1" height="14" fill="#ff0000" shape-rendering="crispEdges"/>
<rect x="317" y="300" width="3" height="6" fill="#ff0000" shape-rendering="crispEdges"/>
<rect x="320" y="302" width="1" height="6" fill="#00ff00" shape-rendering="crispEdges"/>
<rect x="319.5" y="302.5" width="2" height="5" fill="#fff" stroke="#00ff00" stroke-width="1" shape-rendering="crispEdges"/>
<rect x="323" y="308" width="1" height="12" fill="#ff0000" shape-rendering="crispEdges"/>
<rect x="322" y="308" width="3" height="12" fill="#ff0000" shape-rendering="crispEdges"/>
<rect x="325" y="319" width="1" height="15" fill="#ff0000" shape-rendering="crispEdges"/>
<rect x="324" y="319" width="3" height="13" fill="#ff0000" shape-rendering="crispEdges"/>
<rect x="328" y="302" width="1" height="30" fill="#00ff00" shape-rendering="crispEdges"/>
<rect x="327.5" y="302.5" width="2" height="29" fill="#fff" stroke="#00ff00" stroke-width="1" shape-rendering="crispEdges"/>
<rect x="330" y="296" width="1" height="12" fill="#ff0000" shape-rendering="crispEdges"/>
<rect x="329" y="301" width="3" height="7" fill="#ff0000" shape-rendering="crispEdges"/>
<rect x="333" y="289" width="1" height="22" fill="#00ff00" shape-rendering="crispEdges"/>
<rect x="332.5" y="296.5" width="2" height="9" fill="#fff" stroke="#00ff00" stroke-width="1" shape-rendering="crispEdges"/>
<rect x="335" y="301" width="1" height="5" fill="#00ff00" shape-rendering="crispEdges"/>
<rect x="334.5" y="301.5" width="2" height="4" fill="#fff" stroke="#00ff00" stroke-width="1" shape-rendering="crispEdges"/>
<rect x="338" y="295" width="1" height="13" fill="#ff0000" shape-rendering="crispEdges"/>
<rect x="337" y="299" width="3" height="6" fill="#ff0000" shape-rendering="crispEdges"/>
<rect x="340" y="301" width="1" height="13" fill="#00ff00" shape-rendering="crispEdges"/>
<rect x="339.5" y="301.5" width="2" height="11" fill="#fff" stroke="#00ff00" stroke-width="1" shape-rendering="crispEdges"/>
<rect x="343" y="284" width="1" height="18" fill="#ff0000" shape-rendering="crispEdges"/>
<rect x="342" y="297" width="3" height="3" fill="#ff0000" shape-rendering="crispEdges"/>
<rect x="345" y="294" width="1" height="10" fill="#00ff00" shape-rendering="crispEdges"/>
<rect x="344.5" y="297.5" width="2" height="3" fill="#fff" stroke="#00ff00" stroke-width="1" shape-rendering="crispEdges"/>
<rect x="348" y="288" width="1" height="9" fill="#00ff00" shape-rendering="crispEdges"/>
<rect x="347.5" y="293.5" width="2" height="2" fill="#fff" stroke="#00ff00" stroke-width="1" shape-rendering="crispEdges"/>
<rect x="350" y="287" width="1" height="12" fill="#ff0000" shape-rendering="crispEdges"/>
<rect x="349" y="291" width="3" height="5" fill="#ff0000" shape-rendering="crispEdges"/>
<rect x="353" y="288" width="1" height="54" fill="#ff0000" shape-rendering="crispEdges"/>
<rect x="352" y="288" width="3" height="54" fill="#ff0000" shape-rendering="crispEdges"/>
<rect x="355" y="329" width="1" height="23" fill="#00ff00" shape-rendering="crispEdges"/>
<rect x="354.5" y="337.5" width="2" height="10" fill="#fff" stroke="#00ff00" stroke-width="1" shape-rendering="crispEdges"/>
<rect x="358" y="323" width="1" height="23" fill="#00ff00" shape-rendering="crispEdges"/>
<rect x="357.5" y="323.5" width="2" height="20" fill="#fff" stroke="#00ff00" stroke-width="1" shape-rendering="crispEdges"/>
<rect x="360" y="319" width="1" height="13" fill="#ff0000" shape-rendering="crispEdges"/>
<rect x="359" y="321" width="3" height="9" fill="#ff0000" shape-rendering="crispEdges"/>
<rect x="363" y="322" width="1" height="15" fill="#00ff00" shape-rendering="crispEdges"/>
<rect x="362" y="327" width="3" height="2" fill="#00ff00" shape-rendering="crispEdges"/>
<rect x="365" y="318" width="1" height="17" fill="#ff0000" shape-rendering="crispEdges"/>
<rect x="364" y="329" width="3" height="6" fill="#ff0000" shape-rendering="crispEdges"/>
<rect x="368" y="330" width="1" height="15" fill="#00ff00" shape-rendering="crispEdges"/>
<rect x="367.5" y="330.5" width="2" height="5" fill="#fff" stroke="#00ff00" stroke-width="1" shape-rendering="crispEdges"/>
<rect x="370" y="318" width="1" height="10" fill="#00ff00" shape-rendering="crispEdges"/>
<rect x="369.5" y="325.5" width="2" height="2" fill="#fff" stroke="#00ff00" stroke-width="1" shape-rendering="crispEdges"/>
<rect x="373" y="318" width="1" height="13" fill="#ff0000" shape-rendering="crispEdges"/>
<rect x="372" y="324" width="3" height="5" fill="#ff0000" shape-rendering="crispEdges"/>
<rect x="375" y="322" width="1" height="10" fill="#ff0000" shape-rendering="crispEdges"/>
<rect x="374" y="325" width="3" height="3" fill="#ff0000" shape-rendering="crispEdges"/>
<rect x="378" y="327" width="1" height="31" fill="#ff0000" shape-rendering="crispEdges"/>
<rect x="377" y="328" width="3" height="29" fill="#ff0000" shape-rendering="crispEdges"/>
<rect x="380" y="333" width="1" height="36" fill="#00ff00" shape-rendering="crispEdges"/>
<rect x="379.5" y="333.5" width="2" height="26" fill="#fff" stroke="#00ff00" stroke-width="1" shape-rendering="crispEdges"/>
<rect x="383" y="330" width="1" height="2" fill="#00ff00" shape-rendering="crispEdges"/>
<rect x="382" y="330" width="3" height="2" fill="#00ff00" shape-rendering="crispEdges"/>
<rect x="385" y="327" width="1" height="13" fill="#ff0000" shape-rendering="crispEdges"/>
<rect x="384" y="328" width="3" height="4" fill="#ff0000" shape-rendering="crispEdges"/>
<rect x="388" y="331" width="1" height="23" fill="#ff0000" shape-rendering="crispEdges"/>
<rect x="387" y="336" width="3" height="12" fill="#ff0000" shape-rendering="crispEdges"/>
<rect x="390" y="347" width="1" height="16" fill="#ff0000" shape-rendering="crispEdges"/>
<rect x="389" y="354" width="3" height="6" fill="#ff0000" shape-rendering="crispEdges"/>
<rect x="393" y="350" width="1" height="11" fill="#00ff00" shape-rendering="crispEdges"/>
<rect x="392.5" y="350.5" width="2" height="10" fill="#fff" stroke="#00ff00" stroke-width="1" shape-rendering="crispEdges"/>
<rect x="395" y="338" width="1" height="12" fill="#00ff00" shape-rendering="crispEdges"/>
<rect x="394.5" y="338.5" width="2" height="11" fill="#fff" stroke="#00ff00" stroke-width="1" shape-rendering="crispEdges"/>
<rect x="398" y="331" width="1" height="3" fill="#00ff00" shape-rendering="crispEdges"/>
<rect x="397.5" y="331.5" width="2" height="2" fill="#fff" stroke="#00ff00" stroke-width="1" shape-rendering="crispEdges"/>
<rect x="400" y="326" width="1" height="7" fill="#00ff00" shape-rendering="crispEdges"/>
<rect x="399.5" y="326.5" width="2" height="6" fill="#fff" stroke="#00ff00" stroke-width="1" shape-rendering="crispEdges"/>
<rect x="403" y="319" width="1" height="5" fill="#00ff00" shape-rendering="crispEdges"/>
<rect x="402.5" y="320.5" width="2" height="2" fill="#fff" stroke="#00ff00" stroke-width="1" shape-rendering="crispEdges"/>
<rect x="405" y="318" width="1" height="14" fill="#ff0000" shape-rendering="crispEdges"/>
<rect x="404" y="322" width="3" height="6" fill="#ff0000" shape-rendering="crispEdges"/>
<rect x="408" y="325" width="1" height="14" fill="#ff0000" shape-rendering="crispEdges"/>
<rect x="407" y="329" width="3" height="3" fill="#ff0000" shape-rendering="crispEdges"/>
<rect x="410" y="332" width="1" height="6" fill="#ff0000" shape-rendering="crispEdges"/>
<rect x="409" y="332" width="3" height="6" fill="#ff0000" shape-rendering="crispEdges"/>
<rect x="413" y="335" width="1" height="12" fill="#ff0000" shape-rendering="crispEdges"/>
<rect x="412" y="338" width="3" height="3" fill="#ff0000" shape-rendering="crispEdges"/>
<rect x="415" y="339" width="1" height="11" fill="#ff0000" shape-rendering="crispEdges"/>
<rect x="414" y="343" width="3" height="3" fill="#ff0000" shape-rendering="crispEdges"/>
<rect x="418" y="340" width="1" height="9" fill="#ff0000" shape-rendering="crispEdges"/>
<rect x="417" y="343" width="3" height="3" fill="#ff0000" shape-rendering="crispEdges"/>
<rect x="420" y="347" width="1" height="19" fill="#ff0000" shape-rendering="crispEdges"/>
<rect x="419" y="350" width="3" height="13" fill="#ff0000" shape-rendering="crispEdges"/>
<rect x="423" y="346" width="1" height="17" fill="#00ff00" shape-rendering="crispEdges"/>
<rect x="422.5" y="346.5" width="2" height="16" fill="#fff" stroke="#00ff00" stroke-width="1" shape-rendering="crispEdges"/>
<rect x="425" y="345" width="1" height="4" fill="#ff0000" shape-rendering="crispEdges"/>
<rect x="424" y="345" width="3" height="4" fill="#ff0000" shape-rendering="crispEdges"/>
<rect x="428" y="348" width="1" height="6" fill="#ff0000" shape-rendering="crispEdges"/>
<rect x="427" y="348" width="3" height="6" fill="#ff0000" shape-rendering="crispEdges"/>
<rect x="430" y="351" width="1" height="11" fill="#ff0000" shape-rendering="crispEdges"/>
<rect x="429" y="351" width="3" height="10" fill="#ff0000" shape-rendering="crispEdges"/>
<rect x="433" y="359" width="1" height="11" fill="#00ff00" shape-rendering="crispEdges"/>
<rect x="432" y="359" width="3" height="2" fill="#00ff00" shape-rendering="crispEdges"/>
<rect x="435" y="352" width="1" height="6" fill="#00ff00" shape-rendering="crispEdges"/>
<rect x="434.5" y="352.5" width="2" height="5" fill="#fff" stroke="#00ff00" stroke-width="1" shape-rendering="crispEdges"/>
<rect x="438" y="346" width="1" height="8" fill="#00ff00" shape-rendering="crispEdges"/>
<rect x="437.5" y="346.5" width="2" height="7" fill="#fff" stroke="#00ff00" stroke-width="1" shape-rendering="crispEdges"/>
<rect x="440" y="338" width="1" height="8" fill="#ff0000" shape-rendering="crispEdges"/>
<rect x="439" y="342" width="3" height="4" fill="#ff0000" shape-rendering="crispEdges"/>
<rect x="443" y="346" width="1" height="14" fill="#ff0000" shape-rendering="crispEdges"/>
<rect x="442" y="349" width="3" height="9" fill="#ff0000" shape-rendering="crispEdges"/>
<rect x="445" y="358" width="1" height="6" fill="#ff0000" shape-rendering="crispEdges"/>
<rect x="444" y="358" width="3" height="6" fill="#ff0000" shape-rendering="crispEdges"/>
<rect x="448" y="360" width="1" height="12" fill="#ff0000" shape-rendering="crispEdges"/>
<rect x="447" y="362" width="3" height="4" fill="#ff0000" shape-rendering="crispEdges"/>
<rect x="450" y="361" width="1" height="7" fill="#ff0000" shape-rendering="crispEdges"/>
<rect x="449" y="361" width="3" height="7" fill="#ff0000" shape-rendering="crispEdges"/>
<rect x="453" y="364" width="1" height="25" fill="#ff0000" shape-rendering="crispEdges"/>
<rect x="452" y="368" width="3" height="21" fill="#ff0000" shape-rendering="crispEdges"/>
<rect x="455" y="382" width="1" height="9" fill="#ff0000" shape-rendering="crispEdges"/>
<rect x="454" y="386" width="3" height="5" fill="#ff0000" shape-rendering="crispEdges"/>
<rect x="458" y="370" width="1" height="26" fill="#00ff00" shape-rendering="crispEdges"/>
<rect x="457.5" y="370.5" width="2" height="20" fill="#fff" stroke="#00ff00" stroke-width="1" shape-rendering="crispEdges"/>
<rect x="460" y="366" width="1" height="14" fill="#ff0000" shape-rendering="crispEdges"/>
<rect x="459" y="370" width="3" height="8" fill="#ff0000" shape-rendering="crispEdges"/>
<rect x="463" y="376" width="1" height="4" fill="#00ff00" shape-rendering="crispEdges"/>
<rect x="462.5" y="376.5" width="2" height="3" fill="#fff" stroke="#00ff00" stroke-width="1" shape-rendering="crispEdges"/>
<rect x="465" y="368" width="1" height="18" fill="#00ff00" shape-rendering="crispEdges"/>
<rect x="464.5" y="376.5" width="2" height="2" fill="#fff" stroke="#00ff00" stroke-width="1" shape-rendering="crispEdges"/>
<rect x="468" y="365" width="1" height="9" fill="#00ff00" shape-rendering="crispEdges"/>
<rect x="467.5" y="365.5" width="2" height="8" fill="#fff" stroke="#00ff00" stroke-width="1" shape-rendering="crispEdges"/>
<rect x="470" y="361" width="1" height="8" fill="#ff0000" shape-rendering="crispEdges"/>
<rect x="469" y="363" width="3" height="6" fill="#ff0000" shape-rendering="crispEdges"/>
<rect x="473" y="363" width="1" height="17" fill="#ff0000" shape-rendering="crispEdges"/>
<rect x="472" y="368" width="3" height="4" fill="#ff0000" shape-rendering="crispEdges"/>
<rect x="475" y="379" width="1" height="7" fill="#ff0000" shape-rendering="crispEdges"/>
<rect x="474" y="379" width="3" height="6" fill="#ff0000" shape-rendering="crispEdges"/>
<rect x="478" y="382" width="1" height="20" fill="#ff0000" shape-rendering="crispEdges"/>
<rect x="477" y="386" width="3" height="3" fill="#ff0000" shape-rendering="crispEdges"/>
<rect x="480" y="384" width="1" height="4" fill="#00ff00" shape-rendering="crispEdges"/>
<rect x="479.5" y="384.5" width="2" height="3" fill="#fff" stroke="#00ff00" stroke-width="1" shape-rendering="crispEdges"/>
<rect x="483" y="381" width="1" height="14" fill="#ff0000" shape-rendering="crispEdges"/>
<rect x="482" y="384" width="3" height="2" fill="#ff0000" shape-rendering="crispEdges"/>
<rect x="485" y="384" width="1" height="12" fill="#ff0000" shape-rendering="crispEdges"/>
<rect x="484" y="388" width="3" height="3" fill="#ff0000" shape-rendering="crispEdges"/>
<rect x="488" y="384" width="1" height="20" fill="#ff0000" shape-rendering="crispEdges"/>
<rect x="487" y="392" width="3" height="9" fill="#ff0000" shape-rendering="crispEdges"/>
<rect x="490" y="400" width="1" height="8" fill="#ff0000" shape-rendering="crispEdges"/>
<rect x="489" y="400" width="3" height="2" fill="#ff0000" shape-rendering="crispEdges"/>
<rect x="493" y="392" width="1" height="9" fill="#00ff00" shape-rendering="crispEdges"/>
<rect x="492.5" y="392.5" width="2" height="8" fill="#fff" stroke="#00ff00" stroke-width="1" shape-rendering="crispEdges"/>
<rect x="498" y="385" width="1" height="18" fill="#ff0000" shape-rendering="crispEdges"/>
<rect x="497" y="385" width="3" height="14" fill="#ff0000" shape-rendering="crispEdges"/>
<rect x="500" y="382" width="1" height="24" fill="#00ff00" shape-rendering="crispEdges"/>
<rect x="499.5" y="382.5" width="2" height="16" fill="#fff" stroke="#00ff00" stroke-width="1" shape-rendering="crispEdges"/>
<rect x="503" y="374" width="1" height="8" fill="#00ff00" shape-rendering="crispEdges"/>
<rect x="502" y="378" width="3" height="1" fill="#00ff00" shape-rendering="crispEdges"/>
<rect x="505" y="374" width="1" height="8" fill="#00ff00" shape-rendering="crispEdges"/>
<rect x="504.5" y="374.5" width="2" height="4" fill="#fff" stroke="#00ff00" stroke-width="1" shape-rendering="crispEdges"/>
<rect x="508" y="373" width="1" height="10" fill="#00ff00" shape-rendering="crispEdges"/>
<rect x="507" y="377" width="3" height="1" fill="#00ff00" shape-rendering="crispEdges"/>
<rect x="510" y="376" width="1" height="4" fill="#ff0000" shape-rendering="crispEdges"/>
<rect x="509" y="376" width="3" height="4" fill="#ff0000" shape-rendering="crispEdges"/>
<rect x="513" y="369" width="1" height="11" fill="#00ff00" shape-rendering="crispEdges"/>
<rect x="512.5" y="369.5" width="2" height="10" fill="#fff" stroke="#00ff00" stroke-width="1" shape-rendering="crispEdges"/>
<rect x="515" y="366" width="1" height="13" fill="#ff0000" shape-rendering="crispEdges"/>
<rect x="514" y="370" width="3" height="8" fill="#ff0000" shape-rendering="crispEdges"/>
<rect x="518" y="368" width="1" height="5" fill="#00ff00" shape-rendering="crispEdges"/>
<rect x="517.5" y="368.5" width="2" height="4" fill="#fff" stroke="#00ff00" stroke-width="1" shape-rendering="crispEdges"/>
<rect x="520" y="359" width="1" height="21" fill="#00ff00" shape-rendering="crispEdges"/>
<rect x="519.5" y="359.5" width="2" height="17" fill="#fff" stroke="#00ff00" stroke-width="1" shape-rendering="crispEdges"/>
<rect x="523" y="359" width="1" height="23" fill="#ff0000" shape-rendering="crispEdges"/>
<rect x="522" y="359" width="3" height="20" fill="#ff0000" shape-rendering="crispEdges"/>
<rect x="525" y="376" width="1" height="23" fill="#ff0000" shape-rendering="crispEdges"/>
<rect x="524" y="376" width="3" height="23" fill="#ff0000" shape-rendering="crispEdges"/>
<rect x="528" y="379" width="1" height="20" fill="#00ff00" shape-rendering="crispEdges"/>
<rect x="527.5" y="379.5" width="2" height="19" fill="#fff" stroke="#00ff00" stroke-width="1" shape-rendering="crispEdges"/>
<rect x="530" y="366" width="1" height="22" fill="#ff0000" shape-rendering="crispEdges"/>
<rect x="529" y="373" width="3" height="4" fill="#ff0000" shape-rendering="crispEdges"/>
<rect x="533" y="375" width="1" height="5" fill="#00ff00" shape-rendering="crispEdges"/>
<rect x="532.5" y="375.5" width="2" height="4" fill="#fff" stroke="#00ff00" stroke-width="1" shape-rendering="crispEdges"/>
<rect x="535" y="366" width="1" height="12" fill="#00ff00" shape-rendering="crispEdges"/>
<rect x="534.5" y="366.5" width="2" height="11" fill="#fff" stroke="#00ff00" stroke-width="1" shape-rendering="crispEdges"/>
<rect x="538" y="352" width="1" height="16" fill="#00ff00" shape-rendering="crispEdges"/>
<rect x="537.5" y="352.5" width="2" height="15" fill="#fff" stroke="#00ff00" stroke-width="1" shape-rendering="crispEdges"/>
<rect x="540" y="334" width="1" height="18" fill="#00ff00" shape-rendering="crispEdges"/>
<rect x="539.5" y="334.5" width="2" height="5" fill="#fff" stroke="#00ff00" stroke-width="1" shape-rendering="crispEdges"/>
<rect x="543" y="322" width="1" height="15" fill="#00ff00" shape-rendering="crispEdges"/>
<rect x="542.5" y="333.5" width="2" height="3" fill="#fff" stroke="#00ff00" stroke-width="1" shape-rendering="crispEdges"/>
<rect x="545" y="326" width="1" height="16" fill="#ff0000" shape-rendering="crispEdges"/>
<rect x="544" y="330" width="3" height="12" fill="#ff0000" shape-rendering="crispEdges"/>
<rect x="548" y="342" width="1" height="25" fill="#ff0000" shape-rendering="crispEdges"/>
<rect x="547" y="342" width="3" height="25" fill="#ff0000" shape-rendering="crispEdges"/>
<rect x="550" y="360" width="1" height="7" fill="#ff0000" shape-rendering="crispEdges"/>
<rect x="549" y="363" width="3" height="4" fill="#ff0000" shape-rendering="crispEdges"/>
<rect x="553" y="359" width="1" height="27" fill="#ff0000" shape-rendering="crispEdges"/>
<rect x="552" y="363" width="3" height="10" fill="#ff0000" shape-rendering="crispEdges"/>
<rect x="555" y="366" width="1" height="7" fill="#00ff00" shape-rendering="crispEdges"/>
<rect x="554.5" y="366.5" width="2" height="6" fill="#fff" stroke="#00ff00" stroke-width="1" shape-rendering="crispEdges"/>
<rect x="558" y="364" width="1" height="4" fill="#00ff00" shape-rendering="crispEdges"/>
<rect x="557.5" y="364.5" width="2" height="3" fill="#fff" stroke="#00ff00" stroke-width="1" shape-rendering="crispEdges"/>
<rect x="560" y="364" width="1" height="3" fill="#00ff00" shape-rendering="crispEdges"/>
<rect x="559.5" y="364.5" width="2" height="2" fill="#fff" stroke="#00ff00" stroke-width="1" shape-rendering="crispEdges"/>
<rect x="563" y="347" width="1" height="17" fill="#00ff00" shape-rendering="crispEdges"/>
<rect x="562.5" y="347.5" width="2" height="16" fill="#fff" stroke="#00ff00" stroke-width="1" shape-rendering="crispEdges"/>
<rect x="565" y="339" width="1" height="7" fill="#00ff00" shape-rendering="crispEdges"/>
<rect x="564" y="344" width="3" height="2" fill="#00ff00" shape-rendering="crispEdges"/>
<rect x="568" y="341" width="1" height="6" fill="#00ff00" shape-rendering="crispEdges"/>
<rect x="567.5" y="343.5" width="2" height="2" fill="#fff" stroke="#00ff00" stroke-width="1" shape-rendering="crispEdges"/>
<rect x="570" y="335" width="1" height="12" fill="#00ff00" shape-rendering="crispEdges"/>
<rect x="569" y="342" width="3" height="2" fill="#00ff00" shape-rendering="crispEdges"/>
<rect x="573" y="340" width="1" height="9" fill="#ff0000" shape-rendering="crispEdges"/>
<rect x="572" y="340" width="3" height="5" fill="#ff0000" shape-rendering="crispEdges"/>
<rect x="575" y="341" width="1" height="7" fill="#00ff00" shape-rendering="crispEdges"/>
<rect x="574" y="344" width="3" height="2" fill="#00ff00" shape-rendering="crispEdges"/>
<rect x="578" y="344" width="1" height="21" fill="#ff0000" shape-rendering="crispEdges"/>
<rect x="577" y="347" width="3" height="6" fill="#ff0000" shape-rendering="crispEdges"/>
<rect x="580" y="348" width="1" height="8" fill="#00ff00" shape-rendering="crispEdges"/>
<rect x="579" y="350" width="3" height="2" fill="#00ff00" shape-rendering="crispEdges"/>
<rect x="583" y="350" width="1" height="12" fill="#ff0000" shape-rendering="crispEdges"/>
<rect x="582" y="352" width="3" height="4" fill="#ff0000" shape-rendering="crispEdges"/>
<rect x="585" y="356" width="1" height="31" fill="#ff0000" shape-rendering="crispEdges"/>
<rect x="584" y="356" width="3" height="4" fill="#ff0000" shape-rendering="crispEdges"/>
<rect x="588" y="354" width="1" height="31" fill="#ff0000" shape-rendering="crispEdges"/>
<rect x="587" y="354" width="3" height="21" fill="#ff0000" shape-rendering="crispEdges"/>
<polyline points="0.5,450.2 3.0,451.2 5.5,452.2 8.0,453.0 10.5,453.8 13.0,454.4 15.5,454.9 18.0,455.4 20.5,455.8 23.0,456.3 25.5,456.8 28.0,457.3 30.5,457.9 33.0,458.4 35.5,459.0 38.0,459.5 40.5,460.1 43.0,460.6 45.5,461.1 48.0,461.6 50.5,462.1 53.0,462.6 55.5,463.1 58.0,463.6 60.5,464.0 63.0,464.4 65.5,464.8 68.0,465.2 70.5,465.6 73.0,466.0 75.5,466.4 78.0,466.7 80.5,467.0 83.0,467.2 85.5,467.5 88.0,467.8 90.5,467.9 93.0,467.9 95.5,467.9 98.0,468.0 100.5,468.0 103.0,468.0 105.5,468.0 108.0,468.0 110.5,468.0 113.0,468.0 115.5,468.0 118.0,468.0 120.5,468.0 123.0,468.0 125.5,468.0 128.0,468.1 130.5,468.1 133.0,468.2 135.5,468.2 138.0,468.3 140.5,468.3 143.0,468.3 145.5,468.2 148.0,468.2 150.5,468.1 153.0,468.1 155.5,468.1 158.0,468.0 160.5,468.0 163.0,468.0 165.5,468.0 168.0,468.0 170.5,468.0 173.0,468.0 175.5,468.0 178.0,468.0 180.5,468.0 183.0,468.0 185.5,468.0 188.0,468.0 190.5,468.0 193.0,467.9 195.5,467.8 198.0,467.7 200.5,467.5 203.0,467.2 205.5,466.7 208.0,466.2 210.5,465.6 213.0,465.0 215.5,464.4 218.0,463.8 220.5,463.2 223.0,462.6 225.5,462.0 228.0,461.3 230.5,460.6 233.0,459.7 235.5,458.8 238.0,457.8 240.5,456.9 243.0,456.0 245.5,455.0 248.0,454.0 250.5,453.0 253.0,452.0 255.5,451.0 258.0,450.0 260.5,449.0 263.0,448.1 265.5,447.2 268.0,446.4 270.5,445.5 273.0,444.6 275.5,443.7 278.0,442.8 280.5,441.8 283.0,440.8 285.5,439.8 288.0,438.8 290.5,437.8 293.0,436.8 295.5,435.9 298.0,435.0 300.5,434.2 303.0,433.3 305.5,432.4 308.0,431.5 310.5,430.7 313.0,429.8 315.5,429.0 318.0,428.2 320.5,427.4 323.0,426.8 325.5,426.1 328.0,425.5 330.5,424.8 333.0,424.0 335.5,423.2 338.0,422.3 340.5,421.5 343.0,420.6 345.5,419.7 348.0,418.8 350.5,417.9 353.0,417.2 355.5,416.7 358.0,416.1 360.5,415.6 363.0,415.1 365.5,414.3 368.0,413.5 370.5,412.8 373.0,412.0 375.5,411.2 378.0,410.5 380.5,409.7 383.0,409.0 385.5,408.3 388.0,407.6 390.5,406.7 393.0,405.8 395.5,404.9 398.0,404.0 400.5,403.2 403.0,402.4 405.5,401.7 408.0,400.9 410.5,400.4 413.0,399.9 415.5,399.4 418.0,398.9 420.5,398.4 423.0,397.9 425.5,397.4 428.0,397.0 430.5,396.6 433.0,396.2 435.5,395.9 438.0,395.5 440.5,395.2 443.0,394.7 445.5,394.2 448.0,393.7 450.5,393.3 453.0,392.9 455.5,392.6 458.0,392.2 460.5,391.9 463.0,391.7 465.5,391.4 468.0,391.3 470.5,391.3 473.0,391.3 475.5,391.3 478.0,391.3 480.5,391.3 483.0,391.3 485.5,391.2 488.0,391.1 490.5,391.0 493.0,390.8 495.5,391.5 498.0,391.3 500.5,390.8 503.0,390.3 505.5,389.8 508.0,389.3 510.5,388.8 513.0,388.3 515.5,387.8 518.0,387.3 520.5,386.8 523.0,386.2 525.5,385.6 528.0,385.0 530.5,384.2 533.0,383.3 535.5,382.4 538.0,381.5 540.5,380.5 543.0,379.5 545.5,378.5 548.0,377.7 550.5,377.0 553.0,376.2 555.5,375.5 558.0,374.7 560.5,374.0 563.0,373.2 565.5,372.5 568.0,371.7 570.5,371.0 573.0,370.2 575.5,369.5 578.0,368.7 580.5,368.1 583.0,367.6 585.5,367.1 588.0,366.7" fill="none" stroke="#ff0000" stroke-width="2" shape-rendering="crispEdges" stroke-linejoin="round"/>
<polyline points="0.5,418.7 3.0,419.1 5.5,421.7 8.0,424.6 10.5,431.5 13.0,439.3 15.5,446.8 18.0,451.3 20.5,456.2 23.0,462.0 25.5,467.8 28.0,473.7 30.5,479.6 33.0,485.8 35.5,492.0 38.0,498.0 40.5,503.9 43.0,509.2 45.5,514.0 48.0,518.6 50.5,522.9 53.0,526.7 55.5,528.5 58.0,529.6 60.5,528.5 63.0,525.3 65.5,523.1 68.0,521.6 70.5,520.2 73.0,519.0 75.5,517.8 78.0,516.7 80.5,515.7 83.0,514.8 85.5,513.6 88.0,512.3 90.5,511.0 93.0,509.6 95.5,508.2 98.0,506.2 100.5,504.2 103.0,501.3 105.5,497.2 108.0,493.3 110.5,491.1 113.0,489.0 115.5,487.0 118.0,485.5 120.5,484.0 123.0,482.5 125.5,480.9 128.0,479.4 130.5,477.8 133.0,476.3 135.5,474.8 138.0,473.3 140.5,472.3 143.0,471.3 145.5,470.3 148.0,469.6 150.5,469.0 153.0,468.3 155.5,467.7 158.0,467.2 160.5,466.7 163.0,466.2 165.5,465.3 168.0,463.6 170.5,461.8 173.0,459.6 175.5,457.4 178.0,455.4 180.5,453.5 183.0,451.7 185.5,448.5 188.0,445.4 190.5,442.1 193.0,438.3 195.5,434.6 198.0,430.4 200.5,426.0 203.0,421.7 205.5,416.7 208.0,411.7 210.5,405.6 213.0,399.7 215.5,394.8 218.0,390.0 220.5,384.5 223.0,378.9 225.5,373.3 228.0,367.7 230.5,362.0 233.0,355.9 235.5,349.0 238.0,342.2 240.5,335.3 243.0,328.5 245.5,322.0 248.0,317.2 250.5,312.7 253.0,309.3 255.5,306.1 258.0,303.2 260.5,300.3 263.0,297.5 265.5,294.6 268.0,292.2 270.5,290.0 273.0,287.8 275.5,287.0 278.0,286.4 280.5,286.6 283.0,286.8 285.5,287.2 288.0,288.0 290.5,288.8 293.0,290.1 295.5,291.7 298.0,293.5 300.5,294.9 303.0,294.4 305.5,293.9 308.0,293.4 310.5,292.8 313.0,292.9 315.5,293.8 318.0,295.1 320.5,296.9 323.0,298.6 325.5,300.0 328.0,300.0 330.5,300.0 333.0,300.0 335.5,300.4 338.0,300.9 340.5,301.4 343.0,301.9 345.5,302.4 348.0,302.9 350.5,303.6 353.0,305.2 355.5,306.8 358.0,308.4 360.5,310.1 363.0,311.7 365.5,313.4 368.0,314.5 370.5,315.1 373.0,315.8 375.5,316.4 378.0,317.7 380.5,319.5 383.0,321.4 385.5,323.3 388.0,325.2 390.5,327.2 393.0,329.7 395.5,332.2 398.0,334.3 400.5,335.7 403.0,335.1 405.5,334.5 408.0,334.4 410.5,334.8 413.0,335.8 415.5,337.4 418.0,339.0 420.5,340.0 423.0,340.9 425.5,341.8 428.0,342.6 430.5,343.3 433.0,344.1 435.5,344.4 438.0,344.6 440.5,344.9 443.0,345.7 445.5,346.9 448.0,348.2 450.5,350.5 453.0,353.0 455.5,355.4 458.0,357.6 460.5,359.8 463.0,361.5 465.5,362.8 468.0,364.0 470.5,365.5 473.0,367.1 475.5,368.6 478.0,369.8 480.5,371.1 483.0,372.3 485.5,374.4 488.0,376.6 490.5,378.8 493.0,380.8 495.5,382.9 498.0,383.5 500.5,383.8 503.0,384.0 505.5,384.2 508.0,384.2 510.5,384.2 513.0,384.2 515.5,384.2 518.0,384.2 520.5,384.2 523.0,384.2 525.5,384.2 528.0,384.2 530.5,383.9 533.0,383.2 535.5,382.6 538.0,380.2 540.5,377.2 543.0,375.0 545.5,372.9 548.0,371.2 550.5,369.5 553.0,368.9 555.5,368.6 558.0,368.2 560.5,367.4 563.0,366.4 565.5,364.8 568.0,363.2 570.5,361.9 573.0,360.7 575.5,359.4 578.0,358.2 580.5,356.9 583.0,356.0 585.5,357.2 588.0,358.2" fill="none" stroke="#ff0000" stroke-width="2" shape-rendering="crispEdges" stroke-linejoin="round"/>
<polyline points="0.5,459.6 3.0,459.4 5.5,459.4 8.0,460.3 10.5,461.2 13.0,461.9 15.5,462.4 18.0,462.9 20.5,463.3 23.0,463.8 25.5,464.3 28.0,464.7 30.5,465.1 33.0,465.5 35.5,466.0 38.0,466.4 40.5,466.8 43.0,467.2 45.5,467.7 48.0,468.1 50.5,468.6 53.0,469.0 55.5,469.5 58.0,469.9 60.5,470.3 63.0,470.6 65.5,470.9 68.0,471.2 70.5,471.5 73.0,471.8 75.5,472.1 78.0,472.5 80.5,472.9 83.0,473.3 85.5,473.6 88.0,474.0 90.5,474.3 93.0,474.6 95.5,474.9 98.0,475.0 100.5,475.0 103.0,475.0 105.5,475.0 108.0,475.0 110.5,474.6 113.0,474.2 115.5,473.8 118.0,473.3 120.5,473.1 123.0,472.9 125.5,472.7 128.0,472.5 130.5,472.2 133.0,472.0 135.5,471.8 138.0,471.5 140.5,471.2 143.0,471.1 145.5,470.9 148.0,470.7 150.5,470.5 153.0,470.4 155.5,470.2 158.0,470.0 160.5,469.9 163.0,469.8 165.5,469.6 168.0,469.5 170.5,469.4 173.0,469.2 175.5,469.1 178.0,468.9 180.5,468.7 183.0,468.4 185.5,468.2 188.0,468.0 190.5,467.7 193.0,467.3 195.5,467.0 198.0,466.7 200.5,466.2 203.0,465.7 205.5,465.2 208.0,464.7 210.5,463.5 213.0,462.4 215.5,461.3 218.0,460.2 220.5,459.1 223.0,458.1 225.5,457.1 228.0,456.2 230.5,455.4 233.0,454.6 235.5,453.7 238.0,452.6 240.5,451.1 243.0,449.6 245.5,448.2 248.0,446.8 250.5,445.6 253.0,444.3 255.5,443.0 258.0,441.2 260.5,439.4 263.0,437.6 265.5,435.8 268.0,433.6 270.5,430.8 273.0,428.1 275.5,425.4 278.0,422.9 280.5,420.6 283.0,418.3 285.5,416.0 288.0,413.6 290.5,411.3 293.0,409.0 295.5,406.7 298.0,404.4 300.5,402.0 303.0,399.8 305.5,397.5 308.0,395.2 310.5,392.9 313.0,390.9 315.5,388.9 318.0,386.9 320.5,385.0 323.0,383.2 325.5,381.3 328.0,379.4 330.5,377.5 333.0,375.7 335.5,373.8 338.0,371.9 340.5,369.7 343.0,367.5 345.5,365.2 348.0,363.4 350.5,361.9 353.0,360.5 355.5,359.0 358.0,357.7 360.5,356.4 363.0,355.2 365.5,353.9 368.0,352.7 370.5,351.4 373.0,350.2 375.5,348.9 378.0,347.6 380.5,346.1 383.0,344.6 385.5,343.2 388.0,341.9 390.5,340.9 393.0,339.9 395.5,338.8 398.0,337.8 400.5,336.8 403.0,335.7 405.5,334.7 408.0,333.4 410.5,332.0 413.0,330.5 415.5,329.4 418.0,328.3 420.5,327.2 423.0,326.3 425.5,325.5 428.0,324.8 430.5,324.0 433.0,323.3 435.5,322.5 438.0,321.8 440.5,321.3 443.0,320.9 445.5,320.5 448.0,320.1 450.5,320.0 453.0,320.0 455.5,320.0 458.0,320.1 460.5,320.2 463.0,320.3 465.5,320.5 468.0,321.1 470.5,321.8 473.0,322.4 475.5,323.1 478.0,323.9 480.5,324.6 483.0,325.5 485.5,326.5 488.0,327.5 490.5,328.5 493.0,329.2 495.5,329.9 498.0,331.0 500.5,332.2 503.0,333.5 505.5,334.8 508.0,335.7 510.5,336.5 513.0,337.3 515.5,338.2 518.0,339.0 520.5,339.8 523.0,340.7 525.5,341.5 528.0,342.3 530.5,343.2 533.0,344.0 535.5,344.8 538.0,345.4 540.5,345.9 543.0,346.4 545.5,346.9 548.0,347.6 550.5,348.4 553.0,349.1 555.5,349.9 558.0,350.5 560.5,351.1 563.0,351.8 565.5,352.4 568.0,352.7 570.5,353.0 573.0,353.3 575.5,353.6 578.0,354.0 580.5,354.3 583.0,354.7 585.5,355.0 588.0,355.3" fill="none" stroke="#0000ff" stroke-width="2" shape-rendering="crispEdges" stroke-linejoin="round"/>
</g>
<g clip-path="url(#c4)">
<rect x="0" y="690" width="1" height="10" fill="#008000" shape-rendering="crispEdges"/>
<rect x="2" y="689" width="2" height="11" fill="#008000" shape-rendering="crispEdges"/>
<rect x="4" y="665" width="2" height="35" fill="#008000" shape-rendering="crispEdges"/>
<rect x="7" y="670" width="2" height="30" fill="#008000" shape-rendering="crispEdges"/>
<rect x="9" y="681" width="2" height="19" fill="#008000" shape-rendering="crispEdges"/>
<rect x="12" y="672" width="2" height="28" fill="#008000" shape-rendering="crispEdges"/>
<rect x="14" y="689" width="2" height="11" fill="#008000" shape-rendering="crispEdges"/>
<rect x="17" y="668" width="2" height="32" fill="#008000" shape-rendering="crispEdges"/>
<rect x="19" y="680" width="2" height="20" fill="#008000" shape-rendering="crispEdges"/>
<rect x="22" y="686" width="2" height="14" fill="#008000" shape-rendering="crispEdges"/>
<rect x="24" y="688" width="2" height="12" fill="#008000" shape-rendering="crispEdges"/>
<rect x="27" y="688" width="2" height="12" fill="#008000" shape-rendering="crispEdges"/>
<rect x="29" y="679" width="2" height="21" fill="#008000" shape-rendering="crispEdges"/>
<rect x="32" y="686" width="2" height="14" fill="#008000" shape-rendering="crispEdges"/>
<rect x="34" y="672" width="2" height="28" fill="#008000" shape-rendering="crispEdges"/>
<rect x="37" y="686" width="2" height="14" fill="#008000" shape-rendering="crispEdges"/>
<rect x="39" y="686" width="2" height="14" fill="#008000" shape-rendering="crispEdges"/>
<rect x="42" y="687" width="2" height="13" fill="#008000" shape-rendering="crispEdges"/>
<rect x="44" y="691" width="2" height="9" fill="#008000" shape-rendering="crispEdges"/>
<rect x="47" y="691" width="2" height="9" fill="#008000" shape-rendering="crispEdges"/>
<rect x="49" y="691" width="2" height="9" fill="#008000" shape-rendering="crispEdges"/>
<rect x="52" y="685" width="2" height="15" fill="#008000" shape-rendering="crispEdges"/>
<rect x="54" y="686" width="2" height="14" fill="#008000" shape-rendering="crispEdges"/>
<rect x="57" y="686" width="2" height="14" fill="#008000" shape-rendering="crispEdges"/>
<rect x="59" y="687" width="2" height="13" fill="#008000" shape-rendering="crispEdges"/>
<rect x="62" y="688" width="2" height="12" fill="#008000" shape-rendering="crispEdges"/>
<rect x="64" y="683" width="2" height="17" fill="#008000" shape-rendering="crispEdges"/>
<rect x="67" y="680" width="2" height="20" fill="#008000" shape-rendering="crispEdges"/>
<rect x="69" y="682" width="2" height="18" fill="#008000" shape-rendering="crispEdges"/>
<rect x="72" y="681" width="2" height="19" fill="#008000" shape-rendering="crispEdges"/>
<rect x="74" y="686" width="2" height="14" fill="#008000" shape-rendering="crispEdges"/>
<rect x="77" y="687" width="2" height="13" fill="#008000" shape-rendering="crispEdges"/>
<rect x="79" y="685" width="2" height="15" fill="#008000" shape-rendering="crispEdges"/>
<rect x="82" y="679" width="2" height="21" fill="#008000" shape-rendering="crispEdges"/>
<rect x="84" y="686" width="2" height="14" fill="#008000" shape-rendering="crispEdges"/>
<rect x="87" y="684" width="2" height="16" fill="#008000" shape-rendering="crispEdges"/>
<rect x="89" y="682" width="2" height="18" fill="#008000" shape-rendering="crispEdges"/>
<rect x="92" y="671" width="2" height="29" fill="#008000" shape-rendering="crispEdges"/>
<rect x="94" y="678" width="2" height="22" fill="#008000" shape-rendering="crispEdges"/>
<rect x="97" y="680" width="2" height="20" fill="#008000" shape-rendering="crispEdges"/>
<rect x="99" y="677" width="2" height="23" fill="#008000" shape-rendering="crispEdges"/>
<rect x="102" y="678" width="2" height="22" fill="#008000" shape-rendering="crispEdges"/>
<rect x="104" y="666" width="2" height="34" fill="#008000" shape-rendering="crispEdges"/>
<rect x="107" y="680" width="2" height="20" fill="#008000" shape-rendering="crispEdges"/>
<rect x="109" y="675" width="2" height="25" fill="#008000" shape-rendering="crispEdges"/>
<rect x="112" y="673" width="2" height="27" fill="#008000" shape-rendering="crispEdges"/>
<rect x="114" y="680" width="2" height="20" fill="#008000" shape-rendering="crispEdges"/>
<rect x="117" y="684" width="2" height="16" fill="#008000" shape-rendering="crispEdges"/>
<rect x="119" y="685" width="2" height="15" fill="#008000" shape-rendering="crispEdges"/>
<rect x="122" y="683" width="2" height="17" fill="#008000" shape-rendering="crispEdges"/>
<rect x="124" y="662" width="2" height="38" fill="#008000" shape-rendering="crispEdges"/>
<rect x="127" y="685" width="2" height="15" fill="#008000" shape-rendering="crispEdges"/>
<rect x="129" y="681" width="2" height="19" fill="#008000" shape-rendering="crispEdges"/>
<rect x="132" y="684" width="2" height="16" fill="#008000" shape-rendering="crispEdges"/>
<rect x="134" y="682" width="2" height="18" fill="#008000" shape-rendering="crispEdges"/>
<rect x="137" y="684" width="2" height="16" fill="#008000" shape-rendering="crispEdges"/>
<rect x="139" y="679" width="2" height="21" fill="#008000" shape-rendering="crispEdges"/>
<rect x="142" y="676" width="2" height="24" fill="#008000" shape-rendering="crispEdges"/>
<rect x="144" y="684" width="2" height="16" fill="#008000" shape-rendering="crispEdges"/>
<rect x="147" y="686" width="2" height="14" fill="#008000" shape-rendering="crispEdges"/>
<rect x="149" y="685" width="2" height="15" fill="#008000" shape-rendering="crispEdges"/>
<rect x="152" y="685" width="2" height="15" fill="#008000" shape-rendering="crispEdges"/>
<rect x="154" y="682" width="2" height="18" fill="#008000" shape-rendering="crispEdges"/>
<rect x="157" y="676" width="2" height="24" fill="#008000" shape-rendering="crispEdges"/>
<rect x="159" y="668" width="2" height="32" fill="#008000" shape-rendering="crispEdges"/>
<rect x="162" y="677" width="2" height="23" fill="#008000" shape-rendering="crispEdges"/>
<rect x="164" y="671" width="2" height="29" fill="#008000" shape-rendering="crispEdges"/>
<rect x="167" y="675" width="2" height="25" fill="#008000" shape-rendering="crispEdges"/>
<rect x="169" y="662" width="2" height="38" fill="#008000" shape-rendering="crispEdges"/>
<rect x="172" y="674" width="2" height="26" fill="#008000" shape-rendering="crispEdges"/>
<rect x="174" y="666" width="2" height="34" fill="#008000" shape-rendering="crispEdges"/>
<rect x="177" y="667" width="2" height="33" fill="#008000" shape-rendering="crispEdges"/>
<rect x="179" y="661" width="2" height="39" fill="#008000" shape-rendering="crispEdges"/>
<rect x="182" y="662" width="2" height="38" fill="#008000" shape-rendering="crispEdges"/>
<rect x="184" y="658" width="2" height="42" fill="#008000" shape-rendering="crispEdges"/>
<rect x="187" y="653" width="2" height="47" fill="#008000" shape-rendering="crispEdges"/>
<rect x="189" y="657" width="2" height="43" fill="#008000" shape-rendering="crispEdges"/>
<rect x="192" y="663" width="2" height="37" fill="#008000" shape-rendering="crispEdges"/>
<rect x="194" y="665" width="2" height="35" fill="#008000" shape-rendering="crispEdges"/>
<rect x="197" y="663" width="2" height="37" fill="#008000" shape-rendering="crispEdges"/>
<rect x="199" y="668" width="2" height="32" fill="#008000" shape-rendering="crispEdges"/>
<rect x="202" y="660" width="2" height="40" fill="#008000" shape-rendering="crispEdges"/>
<rect x="204" y="653" width="2" height="47" fill="#008000" shape-rendering="crispEdges"/>
<rect x="207" y="622" width="2" height="78" fill="#008000" shape-rendering="crispEdges"/>
<rect x="209" y="657" width="2" height="43" fill="#008000" shape-rendering="crispEdges"/>
<rect x="212" y="652" width="2" height="48" fill="#008000" shape-rendering="crispEdges"/>
<rect x="214" y="655" width="2" height="45" fill="#008000" shape-rendering="crispEdges"/>
<rect x="217" y="660" width="2" height="40" fill="#008000" shape-rendering="crispEdges"/>
<rect x="219" y="637" width="2" height="63" fill="#008000" shape-rendering="crispEdges"/>
<rect x="222" y="669" width="2" height="31" fill="#008000" shape-rendering="crispEdges"/>
<rect x="224" y="669" width="2" height="31" fill="#008000" shape-rendering="crispEdges"/>
<rect x="227" y="647" width="2" height="53" fill="#008000" shape-rendering="crispEdges"/>
<rect x="229" y="660" width="2" height="40" fill="#008000" shape-rendering="crispEdges"/>
<rect x="232" y="666" width="2" height="34" fill="#008000" shape-rendering="crispEdges"/>
<rect x="234" y="645" width="2" height="55" fill="#008000" shape-rendering="crispEdges"/>
<rect x="237" y="658" width="2" height="42" fill="#008000" shape-rendering="crispEdges"/>
<rect x="239" y="651" width="2" height="49" fill="#008000" shape-rendering="crispEdges"/>
<rect x="242" y="663" width="2" height="37" fill="#008000" shape-rendering="crispEdges"/>
<rect x="244" y="657" width="2" height="43" fill="#008000" shape-rendering="crispEdges"/>
<rect x="247" y="646" width="2" height="54" fill="#008000" shape-rendering="crispEdges"/>
<rect x="249" y="665" width="2" height="35" fill="#008000" shape-rendering="crispEdges"/>
<rect x="252" y="650" width="2" height="50" fill="#008000" shape-rendering="crispEdges"/>
<rect x="254" y="672" width="2" height="28" fill="#008000" shape-rendering="crispEdges"/>
<rect x="257" y="674" width="2" height="26" fill="#008000" shape-rendering="crispEdges"/>
<rect x="259" y="669" width="2" height="31" fill="#008000" shape-rendering="crispEdges"/>
<rect x="262" y="676" width="2" height="24" fill="#008000" shape-rendering="crispEdges"/>
<rect x="264" y="665" width="2" height="35" fill="#008000" shape-rendering="crispEdges"/>
<rect x="267" y="672" width="2" height="28" fill="#008000" shape-rendering="crispEdges"/>
<rect x="269" y="674" width="2" height="26" fill="#008000" shape-rendering="crispEdges"/>
<rect x="272" y="658" width="2" height="42" fill="#008000" shape-rendering="crispEdges"/>
<rect x="274" y="658" width="2" height="42" fill="#008000" shape-rendering="crispEdges"/>
<rect x="277" y="678" width="2" height="22" fill="#008000" shape-rendering="crispEdges"/>
<rect x="279" y="682" width="2" height="18" fill="#008000" shape-rendering="crispEdges"/>
<rect x="282" y="671" width="2" height="29" fill="#008000" shape-rendering="crispEdges"/>
<rect x="284" y="679" width="2" height="21" fill="#008000" shape-rendering="crispEdges"/>
<rect x="287" y="676" width="2" height="24" fill="#008000" shape-rendering="crispEdges"/>
<rect x="289" y="677" width="2" height="23" fill="#008000" shape-rendering="crispEdges"/>
<rect x="292" y="682" width="2" height="18" fill="#008000" shape-rendering="crispEdges"/>
<rect x="294" y="684" width="2" height="16" fill="#008000" shape-rendering="crispEdges"/>
<rect x="297" y="685" width="2" height="15" fill="#008000" shape-rendering="crispEdges"/>
<rect x="299" y="685" width="2" height="15" fill="#008000" shape-rendering="crispEdges"/>
<rect x="302" y="675" width="2" height="25" fill="#008000" shape-rendering="crispEdges"/>
<rect x="304" y="687" width="2" height="13" fill="#008000" shape-rendering="crispEdges"/>
<rect x="307" y="679" width="2" height="21" fill="#008000" shape-rendering="crispEdges"/>
<rect x="309" y="680" width="2" height="20" fill="#008000" shape-rendering="crispEdges"/>
<rect x="312" y="677" width="2" height="23" fill="#008000" shape-rendering="crispEdges"/>
<rect x="314" y="684" width="2" height="16" fill="#008000" shape-rendering="crispEdges"/>
<rect x="317" y="675" width="2" height="25" fill="#008000" shape-rendering="crispEdges"/>
<rect x="319" y="686" width="2" height="14" fill="#008000" shape-rendering="crispEdges"/>
<rect x="322" y="684" width="2" height="16" fill="#008000" shape-rendering="crispEdges"/>
<rect x="324" y="681" width="2" height="19" fill="#008000" shape-rendering="crispEdges"/>
<rect x="327" y="680" width="2" height="20" fill="#008000" shape-rendering="crispEdges"/>
<rect x="329" y="682" width="2" height="18" fill="#008000" shape-rendering="crispEdges"/>
<rect x="332" y="677" width="2" height="23" fill="#008000" shape-rendering="crispEdges"/>
<rect x="334" y="684" width="2" height="16" fill="#008000" shape-rendering="crispEdges"/>
<rect x="337" y="679" width="2" height="21" fill="#008000" shape-rendering="crispEdges"/>
<rect x="339" y="669" width="2" height="31" fill="#008000" shape-rendering="crispEdges"/>
<rect x="342" y="666" width="2" height="34" fill="#008000" shape-rendering="crispEdges"/>
<rect x="344" y="680" width="2" height="20" fill="#008000" shape-rendering="crispEdges"/>
<rect x="347" y="676" width="2" height="24" fill="#008000" shape-rendering="crispEdges"/>
<rect x="349" y="677" width="2" height="23" fill="#008000" shape-rendering="crispEdges"/>
<rect x="352" y="659" width="2" height="41" fill="#008000" shape-rendering="crispEdges"/>
<rect x="354" y="666" width="2" height="34" fill="#008000" shape-rendering="crispEdges"/>
<rect x="357" y="675" width="2" height="25" fill="#008000" shape-rendering="crispEdges"/>
<rect x="359" y="681" width="2" height="19" fill="#008000" shape-rendering="crispEdges"/>
<rect x="362" y="675" width="2" height="25" fill="#008000" shape-rendering="crispEdges"/>
<rect x="364" y="679" width="2" height="21" fill="#008000" shape-rendering="crispEdges"/>
<rect x="367" y="677" width="2" height="23" fill="#008000" shape-rendering="crispEdges"/>
<rect x="369" y="685" width="2" height="15" fill="#008000" shape-rendering="crispEdges"/>
<rect x="372" y="682" width="2" height="18" fill="#008000" shape-rendering="crispEdges"/>
<rect x="374" y="681" width="2" height="19" fill="#008000" shape-rendering="crispEdges"/>
<rect x="377" y="670" width="2" height="30" fill="#008000" shape-rendering="crispEdges"/>
<rect x="379" y="673" width="2" height="27" fill="#008000" shape-rendering="crispEdges"/>
<rect x="382" y="680" width="2" height="20" fill="#008000" shape-rendering="crispEdges"/>
<rect x="384" y="682" width="2" height="18" fill="#008000" shape-rendering="crispEdges"/>
<rect x="387" y="682" width="2" height="18" fill="#008000" shape-rendering="crispEdges"/>
<rect x="389" y="683" width="2" height="17" fill="#008000" shape-rendering="crispEdges"/>
<rect x="392" y="688" width="2" height="12" fill="#008000" shape-rendering="crispEdges"/>
<rect x="394" y="685" width="2" height="15" fill="#008000" shape-rendering="crispEdges"/>
<rect x="397" y="684" width="2" height="16" fill="#008000" shape-rendering="crispEdges"/>
<rect x="399" y="685" width="2" height="15" fill="#008000" shape-rendering="crispEdges"/>
<rect x="402" y="684" width="2" height="16" fill="#008000" shape-rendering="crispEdges"/>
<rect x="404" y="685" width="2" height="15" fill="#008000" shape-rendering="crispEdges"/>
<rect x="407" y="684" width="2" height="16" fill="#008000" shape-rendering="crispEdges"/>
<rect x="409" y="687" width="2" height="13" fill="#008000" shape-rendering="crispEdges"/>
<rect x="412" y="690" width="2" height="10" fill="#008000" shape-rendering="crispEdges"/>
<rect x="414" y="686" width="2" height="14" fill="#008000" shape-rendering="crispEdges"/>
<rect x="417" y="691" width="2" height="9" fill="#008000" shape-rendering="crispEdges"/>
<rect x="419" y="684" width="2" height="16" fill="#008000" shape-rendering="crispEdges"/>
<rect x="422" y="688" width="2" height="12" fill="#008000" shape-rendering="crispEdges"/>
<rect x="424" y="690" width="2" height="10" fill="#008000" shape-rendering="crispEdges"/>
<rect x="427" y="686" width="2" height="14" fill="#008000" shape-rendering="crispEdges"/>
<rect x="429" y="689" width="2" height="11" fill="#008000" shape-rendering="crispEdges"/>
<rect x="432" y="687" width="2" height="13" fill="#008000" shape-rendering="crispEdges"/>
<rect x="434" y="685" width="2" height="15" fill="#008000" shape-rendering="crispEdges"/>
<rect x="437" y="684" width="2" height="16" fill="#008000" shape-rendering="crispEdges"/>
<rect x="439" y="686" width="2" height="14" fill="#008000" shape-rendering="crispEdges"/>
<rect x="442" y="689" width="2" height="11" fill="#008000" shape-rendering="crispEdges"/>
<rect x="444" y="684" width="2" height="16" fill="#008000" shape-rendering="crispEdges"/>
<rect x="447" y="692" width="2" height="8" fill="#008000" shape-rendering="crispEdges"/>
<rect x="449" y="690" width="2" height="10" fill="#008000" shape-rendering="crispEdges"/>
<rect x="452" y="681" width="2" height="19" fill="#008000" shape-rendering="crispEdges"/>
<rect x="454" y="688" width="2" height="12" fill="#008000" shape-rendering="crispEdges"/>
<rect x="457" y="683" width="2" height="17" fill="#008000" shape-rendering="crispEdges"/>
<rect x="459" y="690" width="2" height="10" fill="#008000" shape-rendering="crispEdges"/>
<rect x="462" y="691" width="2" height="9" fill="#008000" shape-rendering="crispEdges"/>
<rect x="464" y="688" width="2" height="12" fill="#008000" shape-rendering="crispEdges"/>
<rect x="467" y="686" width="2" height="14" fill="#008000" shape-rendering="crispEdges"/>
<rect x="469" y="685" width="2" height="15" fill="#008000" shape-rendering="crispEdges"/>
<rect x="472" y="687" width="2" height="13" fill="#008000" shape-rendering="crispEdges"/>
<rect x="474" y="686" width="2" height="14" fill="#008000" shape-rendering="crispEdges"/>
<rect x="477" y="683" width="2" height="17" fill="#008000" shape-rendering="crispEdges"/>
<rect x="479" y="689" width="2" height="11" fill="#008000" shape-rendering="crispEdges"/>
<rect x="482" y="693" width="2" height="7" fill="#008000" shape-rendering="crispEdges"/>
<rect x="484" y="689" width="2" height="11" fill="#008000" shape-rendering="crispEdges"/>
<rect x="487" y="682" width="2" height="18" fill="#008000" shape-rendering="crispEdges"/>
<rect x="489" y="681" width="2" height="19" fill="#008000" shape-rendering="crispEdges"/>
<rect x="492" y="685" width="2" height="15" fill="#008000" shape-rendering="crispEdges"/>
<rect x="494" y="678" width="2" height="22" fill="#008000" shape-rendering="crispEdges"/>
<rect x="497" y="674" width="2" height="26" fill="#008000" shape-rendering="crispEdges"/>
<rect x="499" y="674" width="2" height="26" fill="#008000" shape-rendering="crispEdges"/>
<rect x="502" y="674" width="2" height="26" fill="#008000" shape-rendering="crispEdges"/>
<rect x="504" y="671" width="2" height="29" fill="#008000" shape-rendering="crispEdges"/>
<rect x="507" y="680" width="2" height="20" fill="#008000" shape-rendering="crispEdges"/>
<rect x="509" y="677" width="2" height="23" fill="#008000" shape-rendering="crispEdges"/>
<rect x="512" y="682" width="2" height="18" fill="#008000" shape-rendering="crispEdges"/>
<rect x="514" y="680" width="2" height="20" fill="#008000" shape-rendering="crispEdges"/>
<rect x="517" y="675" width="2" height="25" fill="#008000" shape-rendering="crispEdges"/>
<rect x="519" y="675" width="2" height="25" fill="#008000" shape-rendering="crispEdges"/>
<rect x="522" y="681" width="2" height="19" fill="#008000" shape-rendering="crispEdges"/>
<rect x="524" y="679" width="2" height="21" fill="#008000" shape-rendering="crispEdges"/>
<rect x="527" y="687" width="2" height="13" fill="#008000" shape-rendering="crispEdges"/>
<rect x="529" y="682" width="2" height="18" fill="#008000" shape-rendering="crispEdges"/>
<rect x="532" y="676" width="2" height="24" fill="#008000" shape-rendering="crispEdges"/>
<rect x="534" y="685" width="2" height="15" fill="#008000" shape-rendering="crispEdges"/>
<rect x="537" y="679" width="2" height="21" fill="#008000" shape-rendering="crispEdges"/>
<rect x="539" y="680" width="2" height="20" fill="#008000" shape-rendering="crispEdges"/>
<rect x="542" y="679" width="2" height="21" fill="#008000" shape-rendering="crispEdges"/>
<rect x="544" y="679" width="2" height="21" fill="#008000" shape-rendering="crispEdges"/>
<rect x="547" y="684" width="2" height="16" fill="#008000" shape-rendering="crispEdges"/>
<rect x="549" y="676" width="2" height="24" fill="#008000" shape-rendering="crispEdges"/>
<rect x="552" y="691" width="2" height="9" fill="#008000" shape-rendering="crispEdges"/>
<rect x="554" y="686" width="2" height="14" fill="#008000" shape-rendering="crispEdges"/>
<rect x="557" y="687" width="2" height="13" fill="#008000" shape-rendering="crispEdges"/>
<rect x="559" y="691" width="2" height="9" fill="#008000" shape-rendering="crispEdges"/>
<rect x="562" y="689" width="2" height="11" fill="#008000" shape-rendering="crispEdges"/>
<rect x="564" y="686" width="2" height="14" fill="#008000" shape-rendering="crispEdges"/>
<rect x="567" y="683" width="2" height="17" fill="#008000" shape-rendering="crispEdges"/>
<rect x="569" y="684" width="2" height="16" fill="#008000" shape-rendering="crispEdges"/>
<rect x="572" y="688" width="2" height="12" fill="#008000" shape-rendering="crispEdges"/>
<rect x="574" y="679" width="2" height="21" fill="#008000" shape-rendering="crispEdges"/>
<rect x="577" y="669" width="2" height="31" fill="#008000" shape-rendering="crispEdges"/>
<rect x="579" y="673" width="2" height="27" fill="#008000" shape-rendering="crispEdges"/>
<rect x="582" y="668" width="2" height="32" fill="#008000" shape-rendering="crispEdges"/>
<rect x="584" y="664" width="2" height="36" fill="#008000" shape-rendering="crispEdges"/>
<rect x="587" y="676" width="2" height="24" fill="#008000" shape-rendering="crispEdges"/>
<polyline points="0.5,687.9 3.0,687.5 5.5,687.0 8.0,686.2 10.5,685.4 13.0,685.1 15.5,684.8 18.0,684.4 20.5,684.2 23.0,684.1 25.5,684.0 28.0,683.9 30.5,683.9 33.0,683.3 35.5,682.4 38.0,681.7 40.5,681.7 43.0,681.7 45.5,681.7 48.0,681.7 50.5,681.7 53.0,681.7 55.5,682.1 58.0,684.0 60.5,684.5 63.0,685.0 65.5,685.0 68.0,685.0 70.5,685.0 73.0,685.0 75.5,685.0 78.0,685.0 80.5,685.0 83.0,685.0 85.5,685.9 88.0,686.0 90.5,686.0 93.0,685.3 95.5,684.4 98.0,684.1 100.5,683.5 103.0,682.0 105.5,681.0 108.0,680.5 110.5,680.2 113.0,679.9 115.5,679.7 118.0,679.7 120.5,679.7 123.0,679.7 125.5,679.5 128.0,678.8 130.5,678.2 133.0,678.0 135.5,678.0 138.0,678.0 140.5,678.2 143.0,678.8 145.5,679.1 148.0,679.5 150.5,679.8 153.0,680.2 155.5,680.7 158.0,680.8 160.5,680.8 163.0,680.8 165.5,680.5 168.0,679.6 170.5,678.6 173.0,678.0 175.5,677.6 178.0,677.2 180.5,676.3 183.0,675.5 185.5,674.6 188.0,673.7 190.5,672.8 193.0,671.9 195.5,671.0 198.0,670.1 200.5,669.1 203.0,667.7 205.5,666.0 208.0,663.0 210.5,662.2 213.0,661.3 215.5,659.9 218.0,658.9 220.5,657.9 223.0,657.5 225.5,657.4 228.0,657.2 230.5,657.0 233.0,656.7 235.5,656.3 238.0,655.9 240.5,655.5 243.0,655.1 245.5,654.7 248.0,654.5 250.5,654.2 253.0,654.0 255.5,654.7 258.0,656.6 260.5,658.1 263.0,659.1 265.5,660.1 268.0,660.9 270.5,661.5 273.0,661.7 275.5,661.9 278.0,662.2 280.5,662.9 283.0,663.5 285.5,664.6 288.0,666.3 290.5,667.8 293.0,669.0 295.5,670.2 298.0,671.5 300.5,672.8 303.0,673.9 305.5,674.5 308.0,675.2 310.5,675.6 313.0,675.9 315.5,676.1 318.0,676.5 320.5,677.7 323.0,678.9 325.5,679.6 328.0,680.0 330.5,680.5 333.0,680.6 335.5,680.8 338.0,680.9 340.5,680.8 343.0,680.4 345.5,680.0 348.0,679.5 350.5,678.8 353.0,678.1 355.5,677.1 358.0,676.3 360.5,676.3 363.0,676.3 365.5,676.3 368.0,675.8 370.5,675.5 373.0,675.6 375.5,675.6 378.0,675.6 380.5,675.7 383.0,675.7 385.5,675.8 388.0,675.8 390.5,675.8 393.0,677.1 395.5,677.8 398.0,677.9 400.5,678.6 403.0,679.6 405.5,680.3 408.0,680.8 410.5,681.3 413.0,681.6 415.5,681.9 418.0,682.3 420.5,682.7 423.0,683.2 425.5,683.8 428.0,684.7 430.5,685.7 433.0,686.3 435.5,686.3 438.0,686.3 440.5,686.3 443.0,686.5 445.5,686.6 448.0,686.8 450.5,686.8 453.0,686.8 455.5,686.8 458.0,686.8 460.5,686.8 463.0,686.8 465.5,686.8 468.0,686.8 470.5,686.8 473.0,686.8 475.5,686.7 478.0,686.7 480.5,686.7 483.0,686.7 485.5,686.7 488.0,686.7 490.5,686.7 493.0,686.7 495.5,686.6 498.0,686.0 500.5,685.4 503.0,684.6 505.5,683.8 508.0,683.6 510.5,683.3 513.0,682.4 515.5,681.6 518.0,681.4 520.5,681.1 523.0,680.8 525.5,680.3 528.0,679.8 530.5,679.7 533.0,679.7 535.5,679.2 538.0,679.3 540.5,679.3 543.0,679.2 545.5,679.2 548.0,679.1 550.5,679.8 553.0,680.0 555.5,680.1 558.0,682.1 560.5,682.1 563.0,682.1 565.5,682.1 568.0,682.9 570.5,683.0 573.0,683.0 575.5,682.9 578.0,682.9 580.5,682.1 583.0,681.6 585.5,681.3 588.0,680.8" fill="none" stroke="#ff0000" stroke-width="2" shape-rendering="crispEdges" stroke-linejoin="round"/>
</g>
<rect x="0" y="95" width="648" height="1" fill="#f0f0f0"/>
<rect x="0" y="97" width="648" height="1" fill="#a4a4a4"/>
<rect x="0" y="98" width="648" height="1" fill="#626262"/>
<rect x="0" y="201" width="648" height="1" fill="#f0f0f0"/>
<rect x="0" y="203" width="648" height="1" fill="#a4a4a4"/>
<rect x="0" y="204" width="648" height="1" fill="#626262"/>
<rect x="0" y="612" width="648" height="1" fill="#f0f0f0"/>
<rect x="0" y="614" width="648" height="1" fill="#a4a4a4"/>
<rect x="0" y="615" width="648" height="1" fill="#626262"/>
<rect x="597" y="0" width="1" height="95" fill="#000"/>
<rect x="598" y="4" width="8" height="1" fill="#000"/>
<rect x="598" y="13" width="5" height="1" fill="#000"/>
<rect x="598" y="22" width="5" height="1" fill="#000"/>
<rect x="598" y="31" width="5" height="1" fill="#000"/>
<rect x="598" y="40" width="5" height="1" fill="#000"/>
<rect x="598" y="49" width="8" height="1" fill="#000"/>
<rect x="598" y="58" width="5" height="1" fill="#000"/>
<rect x="598" y="67" width="5" height="1" fill="#000"/>
<rect x="598" y="76" width="5" height="1" fill="#000"/>
<rect x="598" y="85" width="5" height="1" fill="#000"/>
<rect x="598" y="94" width="8" height="1" fill="#000"/>
<text x="630.2" y="55.0" textLength="14.0" lengthAdjust="spacing">50</text>
<rect x="597" y="99" width="1" height="102" fill="#000"/>
<rect x="598" y="198" width="3" height="1" fill="#000"/>
<rect x="598" y="193" width="3" height="1" fill="#000"/>
<rect x="598" y="189" width="3" height="1" fill="#000"/>
<rect x="598" y="184" width="3" height="1" fill="#000"/>
<rect x="598" y="179" width="8" height="1" fill="#000"/>
<rect x="598" y="175" width="3" height="1" fill="#000"/>
<rect x="598" y="170" width="3" height="1" fill="#000"/>
<rect x="598" y="165" width="3" height="1" fill="#000"/>
<rect x="598" y="161" width="3" height="1" fill="#000"/>
<rect x="598" y="156" width="8" height="1" fill="#000"/>
<rect x="598" y="151" width="3" height="1" fill="#000"/>
<rect x="598" y="146" width="3" height="1" fill="#000"/>
<rect x="598" y="142" width="3" height="1" fill="#000"/>
<rect x="598" y="137" width="3" height="1" fill="#000"/>
<rect x="598" y="132" width="8" height="1" fill="#000"/>
<rect x="598" y="128" width="3" height="1" fill="#000"/>
<rect x="598" y="123" width="3" height="1" fill="#000"/>
<rect x="598" y="118" width="3" height="1" fill="#000"/>
<rect x="598" y="113" width="3" height="1" fill="#000"/>
<rect x="598" y="109" width="8" height="1" fill="#000"/>
<rect x="598" y="104" width="3" height="1" fill="#000"/>
<rect x="598" y="99" width="3" height="1" fill="#000"/>
<text x="630.2" y="115.0" textLength="14.0" lengthAdjust="spacing">10</text>
<text x="637.2" y="138.0" textLength="7.0" lengthAdjust="spacing">5</text>
<text x="637.2" y="162.0" textLength="7.0" lengthAdjust="spacing">0</text>
<text x="633.2" y="185.0" textLength="11.0" lengthAdjust="spacing">-5</text>
<rect x="597" y="205" width="1" height="407" fill="#000"/>
<rect x="598" y="608" width="3" height="1" fill="#000"/>
<rect x="598" y="605" width="3" height="1" fill="#000"/>
<rect x="598" y="601" width="8" height="1" fill="#000"/>
<rect x="598" y="598" width="3" height="1" fill="#000"/>
<rect x="598" y="594" width="3" height="1" fill="#000"/>
<rect x="598" y="591" width="3" height="1" fill="#000"/>
<rect x="598" y="587" width="3" height="1" fill="#000"/>
<rect x="598" y="583" width="8" height="1" fill="#000"/>
<rect x="598" y="580" width="3" height="1" fill="#000"/>
<rect x="598" y="576" width="3" height="1" fill="#000"/>
<rect x="598" y="573" width="3" height="1" fill="#000"/>
<rect x="598" y="569" width="3" height="1" fill="#000"/>
<rect x="598" y="566" width="8" height="1" fill="#000"/>
<rect x="598" y="562" width="3" height="1" fill="#000"/>
<rect x="598" y="559" width="3" height="1" fill="#000"/>
<rect x="598" y="555" width="3" height="1" fill="#000"/>
<rect x="598" y="552" width="3" height="1" fill="#000"/>
<rect x="598" y="548" width="8" height="1" fill="#000"/>
<rect x="598" y="545" width="3" height="1" fill="#000"/>
<rect x="598" y="541" width="3" height="1" fill="#000"/>
<rect x="598" y="538" width="3" height="1" fill="#000"/>
<rect x="598" y="534" width="3" height="1" fill="#000"/>
<rect x="598" y="530" width="8" height="1" fill="#000"/>
<rect x="598" y="527" width="3" height="1" fill="#000"/>
<rect x="598" y="523" width="3" height="1" fill="#000"/>
<rect x="598" y="520" width="3" height="1" fill="#000"/>
<rect x="598" y="516" width="3" height="1" fill="#000"/>
<rect x="598" y="513" width="8" height="1" fill="#000"/>
<rect x="598" y="509" width="3" height="1" fill="#000"/>
<rect x="598" y="506" width="3" height="1" fill="#000"/>
<rect x="598" y="502" width="3" height="1" fill="#000"/>
<rect x="598" y="499" width="3" height="1" fill="#000"/>
<rect x="598" y="495" width="8" height="1" fill="#000"/>
<rect x="598" y="492" width="3" height="1" fill="#000"/>
<rect x="598" y="488" width="3" height="1" fill="#000"/>
<rect x="598" y="484" width="3" height="1" fill="#000"/>
<rect x="598" y="481" width="3" height="1" fill="#000"/>
<rect x="598" y="477" width="8" height="1" fill="#000"/>
<rect x="598" y="474" width="3" height="1" fill="#000"/>
<rect x="598" y="470" width="3" height="1" fill="#000"/>
<rect x="598" y="467" width="3" height="1" fill="#000"/>
<rect x="598" y="463" width="3" height="1" fill="#000"/>
<rect x="598" y="460" width="8" height="1" fill="#000"/>
<rect x="598" y="456" width="3" height="1" fill="#000"/>
<rect x="598" y="453" width="3" height="1" fill="#000"/>
<rect x="598" y="449" width="3" height="1" fill="#000"/>
<rect x="598" y="446" width="3" height="1" fill="#000"/>
<rect x="598" y="442" width="8" height="1" fill="#000"/>
<rect x="598" y="439" width="3" height="1" fill="#000"/>
<rect x="598" y="435" width="3" height="1" fill="#000"/>
<rect x="598" y="431" width="3" height="1" fill="#000"/>
<rect x="598" y="428" width="3" height="1" fill="#000"/>
<rect x="598" y="424" width="8" height="1" fill="#000"/>
<rect x="598" y="421" width="3" height="1" fill="#000"/>
<rect x="598" y="417" width="3" height="1" fill="#000"/>
<rect x="598" y="414" width="3" height="1" fill="#000"/>
<rect x="598" y="410" width="3" height="1" fill="#000"/>
<rect x="598" y="407" width="8" height="1" fill="#000"/>
<rect x="598" y="403" width="3" height="1" fill="#000"/>
<rect x="598" y="400" width="3" height="1" fill="#000"/>
<rect x="598" y="396" width="3" height="1" fill="#000"/>
<rect x="598" y="393" width="3" height="1" fill="#000"/>
<rect x="598" y="389" width="8" height="1" fill="#000"/>
<rect x="598" y="386" width="3" height="1" fill="#000"/>
<rect x="598" y="382" width="3" height="1" fill="#000"/>
<rect x="598" y="378" width="3" height="1" fill="#000"/>
<rect x="598" y="375" width="3" height="1" fill="#000"/>
<rect x="598" y="371" width="8" height="1" fill="#000"/>
<rect x="598" y="368" width="3" height="1" fill="#000"/>
<rect x="598" y="364" width="3" height="1" fill="#000"/>
<rect x="598" y="361" width="3" height="1" fill="#000"/>
<rect x="598" y="357" width="3" height="1" fill="#000"/>
<rect x="598" y="354" width="8" height="1" fill="#000"/>
<rect x="598" y="350" width="3" height="1" fill="#000"/>
<rect x="598" y="347" width="3" height="1" fill="#000"/>
<rect x="598" y="343" width="3" height="1" fill="#000"/>
<rect x="598" y="340" width="3" height="1" fill="#000"/>
<rect x="598" y="336" width="8" height="1" fill="#000"/>
<rect x="598" y="332" width="3" height="1" fill="#000"/>
<rect x="598" y="329" width="3" height="1" fill="#000"/>
<rect x="598" y="325" width="3" height="1" fill="#000"/>
<rect x="598" y="322" width="3" height="1" fill="#000"/>
<rect x="598" y="318" width="8" height="1" fill="#000"/>
<rect x="598" y="315" width="3" height="1" fill="#000"/>
<rect x="598" y="311" width="3" height="1" fill="#000"/>
<rect x="598" y="308" width="3" height="1" fill="#000"/>
<rect x="598" y="304" width="3" height="1" fill="#000"/>
<rect x="598" y="301" width="8" height="1" fill="#000"/>
<rect x="598" y="297" width="3" height="1" fill="#000"/>
<rect x="598" y="294" width="3" height="1" fill="#000"/>
<rect x="598" y="290" width="3" height="1" fill="#000"/>
<rect x="598" y="287" width="3" height="1" fill="#000"/>
<rect x="598" y="283" width="8" height="1" fill="#000"/>
<rect x="598" y="279" width="3" height="1" fill="#000"/>
<rect x="598" y="276" width="3" height="1" fill="#000"/>
<rect x="598" y="272" width="3" height="1" fill="#000"/>
<rect x="598" y="269" width="3" height="1" fill="#000"/>
<rect x="598" y="265" width="8" height="1" fill="#000"/>
<rect x="598" y="262" width="3" height="1" fill="#000"/>
<rect x="598" y="258" width="3" height="1" fill="#000"/>
<rect x="598" y="255" width="3" height="1" fill="#000"/>
<rect x="598" y="251" width="3" height="1" fill="#000"/>
<rect x="598" y="248" width="8" height="1" fill="#000"/>
<rect x="598" y="244" width="3" height="1" fill="#000"/>
<rect x="598" y="241" width="3" height="1" fill="#000"/>
<rect x="598" y="237" width="3" height="1" fill="#000"/>
<rect x="598" y="234" width="3" height="1" fill="#000"/>
<rect x="598" y="230" width="8" height="1" fill="#000"/>
<rect x="598" y="226" width="3" height="1" fill="#000"/>
<rect x="598" y="223" width="3" height="1" fill="#000"/>
<rect x="598" y="219" width="3" height="1" fill="#000"/>
<rect x="598" y="216" width="3" height="1" fill="#000"/>
<rect x="598" y="212" width="8" height="1" fill="#000"/>
<rect x="598" y="209" width="3" height="1" fill="#000"/>
<rect x="598" y="205" width="3" height="1" fill="#000"/>
<text x="623.2" y="607.0" textLength="21.0" lengthAdjust="spacing">190</text>
<text x="623.2" y="589.0" textLength="21.0" lengthAdjust="spacing">195</text>
<text x="623.2" y="572.0" textLength="21.0" lengthAdjust="spacing">200</text>
<text x="623.2" y="554.0" textLength="21.0" lengthAdjust="spacing">205</text>
<text x="623.2" y="536.0" textLength="21.0" lengthAdjust="spacing">210</text>
<text x="623.2" y="519.0" textLength="21.0" lengthAdjust="spacing">215</text>
<text x="623.2" y="501.0" textLength="21.0" lengthAdjust="spacing">220</text>
<text x="623.2" y="483.0" textLength="21.0" lengthAdjust="spacing">225</text>
<text x="623.2" y="466.0" textLength="21.0" lengthAdjust="spacing">230</text>
<text x="623.2" y="448.0" textLength="21.0" lengthAdjust="spacing">235</text>
<text x="623.2" y="430.0" textLength="21.0" lengthAdjust="spacing">240</text>
<text x="623.2" y="413.0" textLength="21.0" lengthAdjust="spacing">245</text>
<text x="623.2" y="395.0" textLength="21.0" lengthAdjust="spacing">250</text>
<text x="623.2" y="360.0" textLength="21.0" lengthAdjust="spacing">260</text>
<text x="623.2" y="342.0" textLength="21.0" lengthAdjust="spacing">265</text>
<text x="623.2" y="324.0" textLength="21.0" lengthAdjust="spacing">270</text>
<text x="623.2" y="307.0" textLength="21.0" lengthAdjust="spacing">275</text>
<text x="623.2" y="289.0" textLength="21.0" lengthAdjust="spacing">280</text>
<text x="623.2" y="271.0" textLength="21.0" lengthAdjust="spacing">285</text>
<text x="623.2" y="254.0" textLength="21.0" lengthAdjust="spacing">290</text>
<text x="623.2" y="236.0" textLength="21.0" lengthAdjust="spacing">295</text>
<text x="623.2" y="218.0" textLength="21.0" lengthAdjust="spacing">300</text>
<rect x="602" y="367" width="41" height="16" fill="#000"/>
<text x="603.5" y="378.6" fill="#ff0000" font-size="10.2" textLength="38.5" lengthAdjust="spacing">253.640</text>
<rect x="597" y="616" width="1" height="85" fill="#000"/>
<rect x="598" y="626" width="8" height="1" fill="#000"/>
<rect x="598" y="639" width="3" height="1" fill="#000"/>
<rect x="598" y="651" width="8" height="1" fill="#000"/>
<rect x="598" y="664" width="3" height="1" fill="#000"/>
<rect x="598" y="677" width="8" height="1" fill="#000"/>
<rect x="598" y="689" width="3" height="1" fill="#000"/>
<text x="609.2" y="682.8" textLength="35.0" lengthAdjust="spacing">10000</text>
<text x="609.2" y="656.8" textLength="35.0" lengthAdjust="spacing">20000</text>
<text x="609.2" y="631.8" textLength="35.0" lengthAdjust="spacing">30000</text>
<rect x="598.6" y="700.6" width="50" height="21" fill="#f0f0f0"/>
<rect x="599" y="687" width="34" height="13.5" fill="#000"/><rect x="600" y="688" width="32" height="12.5" fill="#fff"/>
<text x="600.8" y="696.7" font-size="9">x10000</text>
<rect x="0" y="700" width="598" height="1" fill="#000"/>
<g clip-path="url(#cx)">
<rect x="1" y="700" width="1" height="20" fill="#000"/>
<text x="2.2" y="716.8" textLength="18.3" lengthAdjust="spacingAndGlyphs">Apr</text>
<rect x="51" y="700" width="1" height="20" fill="#000"/>
<text x="53.2" y="716.8" textLength="20.6" lengthAdjust="spacingAndGlyphs">May</text>
<rect x="102" y="700" width="1" height="20" fill="#000"/>
<text x="103.8" y="716.8" textLength="19.8" lengthAdjust="spacingAndGlyphs">Jun</text>
<rect x="156" y="700" width="1" height="20" fill="#000"/>
<text x="157.6" y="716.8" textLength="16.0" lengthAdjust="spacingAndGlyphs">Jul</text>
<rect x="215" y="700" width="1" height="20" fill="#000"/>
<text x="217.8" y="716.8" textLength="20.4" lengthAdjust="spacingAndGlyphs">Aug</text>
<rect x="268" y="700" width="1" height="20" fill="#000"/>
<text x="270.2" y="716.8" textLength="21.3" lengthAdjust="spacingAndGlyphs">Sep</text>
<rect x="320" y="700" width="1" height="20" fill="#000"/>
<text x="321.8" y="716.8" textLength="18.2" lengthAdjust="spacingAndGlyphs">Oct</text>
<rect x="378" y="700" width="1" height="20" fill="#000"/>
<text x="380.0" y="716.8" textLength="21.3" lengthAdjust="spacingAndGlyphs">Nov</text>
<rect x="429" y="700" width="1" height="20" fill="#000"/>
<text x="431.8" y="716.8" textLength="21.3" lengthAdjust="spacingAndGlyphs">Dec</text>
<rect x="488" y="700" width="1" height="20" fill="#000"/>
<text x="490.2" y="716.8" textLength="28.0" lengthAdjust="spacingAndGlyphs">2026</text>
<rect x="539" y="700" width="1" height="20" fill="#000"/>
<text x="541.0" y="716.8" textLength="20.0" lengthAdjust="spacingAndGlyphs">Feb</text>
<rect x="578" y="700" width="1" height="20" fill="#000"/>
<text x="580.0" y="716.8" textLength="21.5" lengthAdjust="spacingAndGlyphs">Mar</text>
</g>
<rect x="10" y="700" width="1" height="5" fill="#000"/>
<rect x="22" y="700" width="1" height="5" fill="#000"/>
<rect x="34" y="700" width="1" height="5" fill="#000"/>
<rect x="46" y="700" width="1" height="5" fill="#000"/>
<rect x="64" y="700" width="1" height="5" fill="#000"/>
<rect x="77" y="700" width="1" height="5" fill="#000"/>
<rect x="91" y="700" width="1" height="5" fill="#000"/>
<rect x="115" y="700" width="1" height="5" fill="#000"/>
<rect x="128" y="700" width="1" height="5" fill="#000"/>
<rect x="141" y="700" width="1" height="5" fill="#000"/>
<rect x="154" y="700" width="1" height="5" fill="#000"/>
<rect x="166" y="700" width="1" height="5" fill="#000"/>
<rect x="179" y="700" width="1" height="5" fill="#000"/>
<rect x="192" y="700" width="1" height="5" fill="#000"/>
<rect x="205" y="700" width="1" height="5" fill="#000"/>
<rect x="217" y="700" width="1" height="5" fill="#000"/>
<rect x="230" y="700" width="1" height="5" fill="#000"/>
<rect x="243" y="700" width="1" height="5" fill="#000"/>
<rect x="256" y="700" width="1" height="5" fill="#000"/>
<rect x="276" y="700" width="1" height="5" fill="#000"/>
<rect x="289" y="700" width="1" height="5" fill="#000"/>
<rect x="302" y="700" width="1" height="5" fill="#000"/>
<rect x="315" y="700" width="1" height="5" fill="#000"/>
<rect x="327" y="700" width="1" height="5" fill="#000"/>
<rect x="340" y="700" width="1" height="5" fill="#000"/>
<rect x="353" y="700" width="1" height="5" fill="#000"/>
<rect x="366" y="700" width="1" height="5" fill="#000"/>
<rect x="391" y="700" width="1" height="5" fill="#000"/>
<rect x="404" y="700" width="1" height="5" fill="#000"/>
<rect x="417" y="700" width="1" height="5" fill="#000"/>
<rect x="442" y="700" width="1" height="5" fill="#000"/>
<rect x="455" y="700" width="1" height="5" fill="#000"/>
<rect x="468" y="700" width="1" height="5" fill="#000"/>
<rect x="481" y="700" width="1" height="5" fill="#000"/>
<rect x="501" y="700" width="1" height="5" fill="#000"/>
<rect x="514" y="700" width="1" height="5" fill="#000"/>
<rect x="527" y="700" width="1" height="5" fill="#000"/>
<rect x="552" y="700" width="1" height="5" fill="#000"/>
<rect x="565" y="700" width="1" height="5" fill="#000"/>
<rect x="590" y="700" width="1" height="5" fill="#000"/>
</svg>
</body></html>
